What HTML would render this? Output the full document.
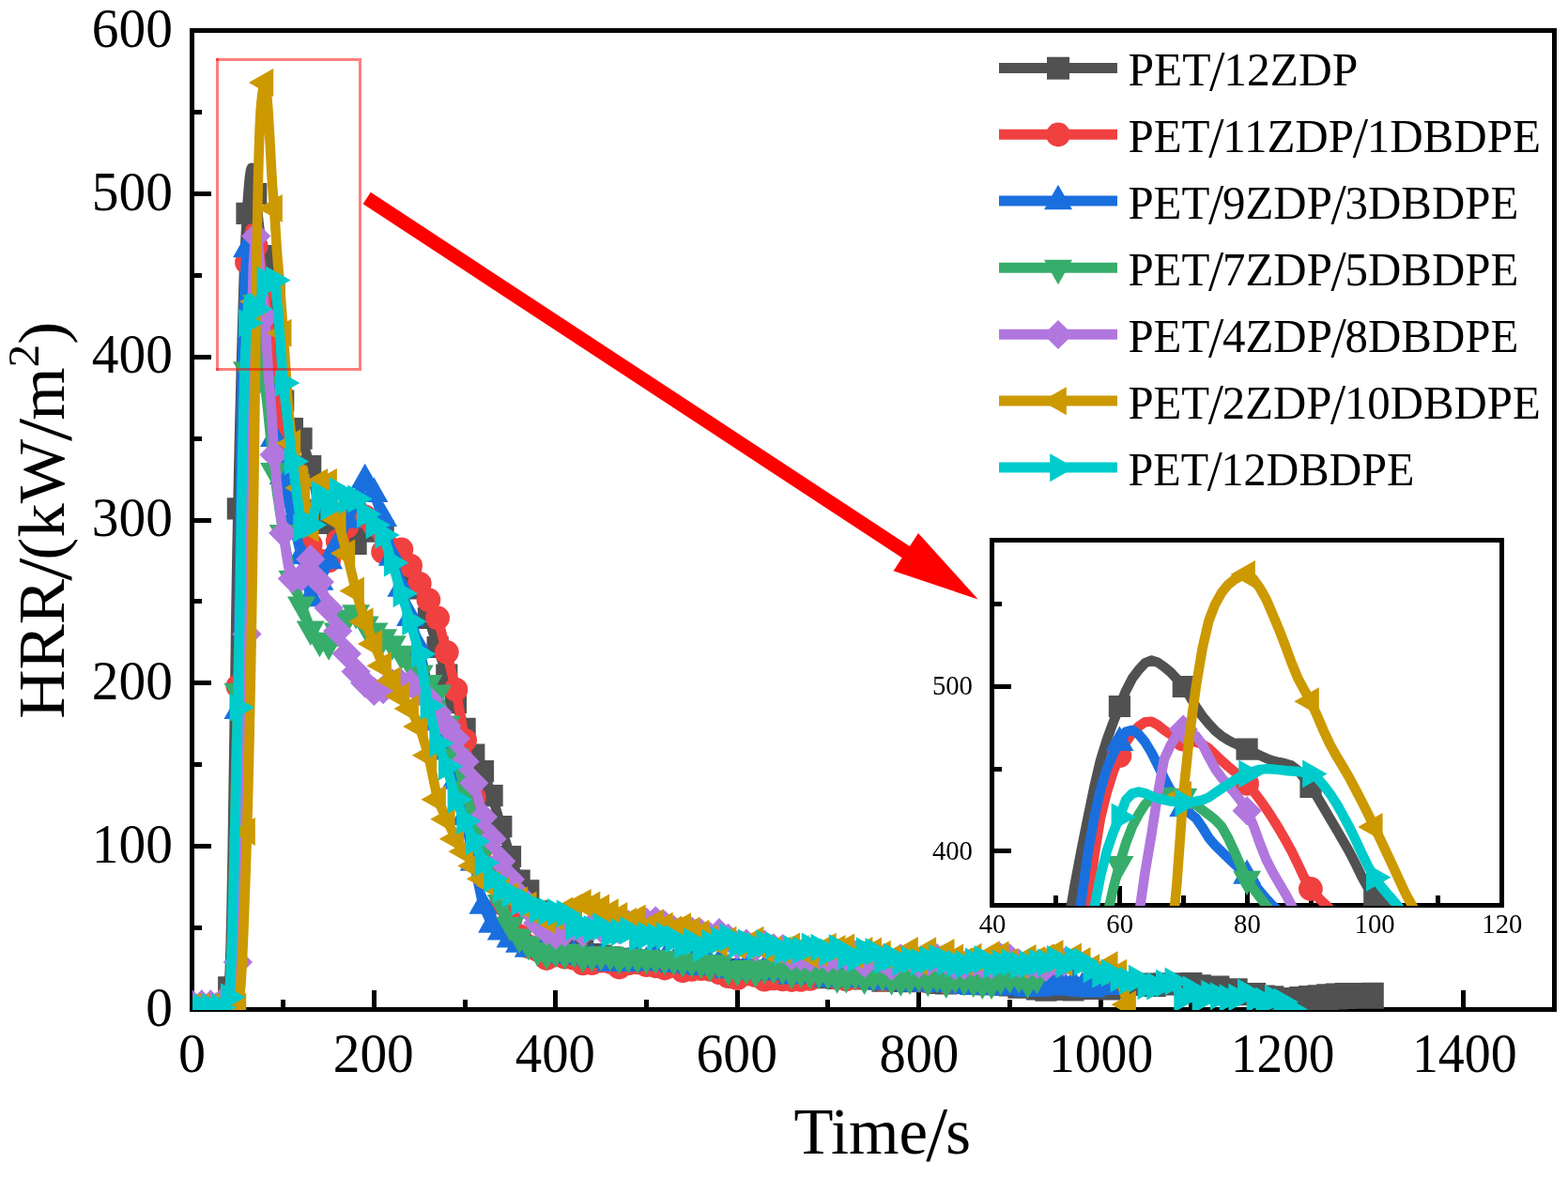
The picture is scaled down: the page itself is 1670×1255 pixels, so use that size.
<!DOCTYPE html>
<html lang="en"><head><meta charset="utf-8"><title>HRR curves</title>
<style>html,body{margin:0;padding:0;background:#fff}svg{display:block}</style>
</head><body>
<svg width="1670" height="1255" viewBox="0 0 1670 1255" font-family="'Liberation Serif','DejaVu Serif',serif" fill="#000">
<defs>
<clipPath id="cm"><rect x="205" y="32.7" width="1450.6" height="1043.2"/></clipPath>
<clipPath id="ci"><rect x="1056.7" y="575.6" width="542.8" height="389.3"/></clipPath>
</defs>
<rect width="1670" height="1255" fill="#fff"/>
<g id="main-axes" stroke="#000" stroke-width="5" fill="none" shape-rendering="crispEdges">
<rect x="204.5" y="32.5" width="1451" height="1043"/>
<path d="M301.7 1075.3v-10.8M398.4 1075.3v-20.3M495.1 1075.3v-10.8M591.8 1075.3v-20.3M688.5 1075.3v-10.8M785.2 1075.3v-20.3M881.9 1075.3v-10.8M978.7 1075.3v-20.3M1075.4 1075.3v-10.8M1172.1 1075.3v-20.3M1268.8 1075.3v-10.8M1365.5 1075.3v-20.3M1462.2 1075.3v-10.8M1558.9 1075.3v-20.3M205 988.4h10M205 901.5h19.5M205 814.6h10M205 727.8h19.5M205 640.9h10M205 554h19.5M205 467.1h10M205 380.2h19.5M205 293.4h10M205 206.5h19.5M205 119.6h10"/>
</g>
<g id="main-data" clip-path="url(#cm)">
<polyline points="205,1073.6 206,1073.6 206.9,1073.6 207.9,1073.6 208.9,1073.6 209.8,1073.6 210.8,1073.6 211.8,1073.6 212.7,1073.6 213.7,1073.6 214.7,1073.6 215.6,1073.6 216.6,1073.6 217.6,1073.6 218.5,1073.6 219.5,1073.6 220.5,1073.6 221.4,1073.6 222.4,1073.6 223.4,1073.6 224.3,1073.6 225.3,1073.6 226.3,1073.6 227.2,1073.6 228.2,1073.6 229.2,1073.6 230.1,1073.6 231.1,1073.6 232.1,1073.6 233,1073.6 234,1073.6 235,1073.3 235.9,1072.6 236.9,1071.5 237.9,1069.9 238.8,1067.9 239.8,1065.5 240.8,1062.7 241.7,1059.4 242.7,1055.8 243.7,1051.8 244.6,1038.3 245.6,1008.2 246.6,964.6 247.6,910.6 248.5,849.3 249.5,783.8 250.5,717.2 251.4,652.6 252.4,593.1 253.4,541.8 254.3,496.4 255.3,453.6 256.3,414.7 257.2,379 258.2,345.5 259.2,312.9 260.1,284.7 261.1,262.9 262.1,244.2 263,227.3 264,210.7 265,197.8 265.9,188.8 266.9,181.6 267.9,178.7 268.8,181 269.8,185.6 270.8,191.2 271.7,198.4 272.7,206.5 273.7,216.4 274.6,227.8 275.6,237.7 276.6,245.8 277.5,253 278.5,258.6 279.5,262.8 280.4,266.3 281.4,269.4 282.4,272.5 283.3,275.8 284.3,279.1 285.3,282.1 286.2,284.7 287.2,286.4 288.2,287.8 289.1,289.9 290.1,295 291.1,303.3 292,312.5 293,322.5 294,333.9 294.9,345.5 295.9,356.9 296.9,368.6 297.8,380.2 298.8,393.2 299.8,406.9 300.7,419.1 301.7,427.2 302.7,432 303.6,436.3 304.6,440.1 305.6,443.5 306.5,446.4 307.5,449 308.5,451.3 309.4,453.3 310.4,455.1 311.4,456.7 321,467.1 330.7,496.7 340.4,543.6 350.1,557.5 359.7,566.2 369.4,574.9 379.1,579.4 388.7,559.2 398.4,566.2 408.1,566.2 417.8,587 427.4,597.4 437.1,609.6 446.8,627 456.4,658.3 466.1,689.5 475.8,719.1 485.4,748.6 495.1,776.4 504.8,804.2 514.5,821.6 524.1,847.7 533.8,880.7 543.5,912.5 553.1,938.1 562.8,948.9 572.5,970.5 582.2,988.1 591.8,998.4 601.5,1003.9 611.2,1010.3 620.8,1011.7 630.5,1016.5 640.2,1018.2 649.9,1019.8 659.5,1021.4 669.2,1021.7 678.9,1023.1 688.5,1024.5 698.2,1026.6 707.9,1027.7 717.5,1027.5 727.2,1029 736.9,1030.8 746.6,1029.6 756.2,1031.7 765.9,1033.1 775.6,1032.5 785.2,1035.1 794.9,1033.2 804.6,1034.2 814.3,1035.4 823.9,1037.6 833.6,1037.2 843.3,1037.9 852.9,1040.2 862.6,1038.1 872.3,1039 881.9,1041.6 891.6,1042.4 901.3,1040.3 911,1041.6 920.6,1042.8 930.3,1042.8 940,1045.2 949.6,1043.5 959.3,1045.3 969,1045.6 978.7,1045 988.3,1045.6 998,1047.5 1007.7,1047.9 1017.3,1047.5 1027,1046.5 1036.7,1047.5 1046.3,1048.7 1056,1048.3 1065.7,1049.1 1075.4,1050 1085,1052.1 1094.7,1052 1104.4,1053.9 1114,1055.1 1123.7,1053 1133.4,1054.3 1143.1,1054.9 1152.7,1052.4 1162.4,1053.4 1172.1,1051 1181.7,1053.9 1191.4,1052.3 1201.1,1048.9 1210.7,1049.5 1220.4,1048 1230.1,1050.5 1239.8,1047.9 1249.4,1049 1259.1,1047.9 1268.8,1047.5 1278.4,1049.8 1288.1,1053.3 1297.8,1051.1 1307.5,1054 1312.3,1054 1317.1,1053.9 1326.8,1059.6 1336.5,1058.7 1346.1,1061.1 1355.8,1061.9 1365.5,1063.7 1370.3,1063.8 1375.2,1063.6 1384.8,1062.6 1389.7,1062.1 1394.5,1061.7 1404.2,1060.8 1409,1060.4 1413.8,1059.9 1423.5,1059.1 1433.2,1058.6 1442.8,1058.5 1452.5,1058.5 1462.2,1058.4" fill="none" stroke="#515151" stroke-width="10.5" stroke-linejoin="round"/>
<path d="M193.4 1062h23.2v23.2h-23.2zM203.1 1062h23.2v23.2h-23.2zM212.7 1062h23.2v23.2h-23.2zM222.4 1062h23.2v23.2h-23.2zM232.1 1040.2h23.2v23.2h-23.2zM241.8 530.2h23.2v23.2h-23.2zM251.4 215.7h23.2v23.2h-23.2zM261.1 194.9h23.2v23.2h-23.2zM270.8 260.9h23.2v23.2h-23.2zM280.4 300.9h23.2v23.2h-23.2zM290.1 415.6h23.2v23.2h-23.2zM299.8 445.1h23.2v23.2h-23.2zM309.4 455.5h23.2v23.2h-23.2zM319.1 485.1h23.2v23.2h-23.2zM328.8 532h23.2v23.2h-23.2zM338.5 545.9h23.2v23.2h-23.2zM348.1 554.6h23.2v23.2h-23.2zM357.8 563.3h23.2v23.2h-23.2zM367.5 567.8h23.2v23.2h-23.2zM377.1 547.6h23.2v23.2h-23.2zM386.8 554.6h23.2v23.2h-23.2zM396.5 554.6h23.2v23.2h-23.2zM406.2 575.4h23.2v23.2h-23.2zM415.8 585.8h23.2v23.2h-23.2zM425.5 598h23.2v23.2h-23.2zM435.2 615.4h23.2v23.2h-23.2zM444.8 646.7h23.2v23.2h-23.2zM454.5 677.9h23.2v23.2h-23.2zM464.2 707.5h23.2v23.2h-23.2zM473.8 737h23.2v23.2h-23.2zM483.5 764.8h23.2v23.2h-23.2zM493.2 792.6h23.2v23.2h-23.2zM502.9 810h23.2v23.2h-23.2zM512.5 836.1h23.2v23.2h-23.2zM522.2 869.1h23.2v23.2h-23.2zM531.9 900.9h23.2v23.2h-23.2zM541.5 926.5h23.2v23.2h-23.2zM551.2 937.3h23.2v23.2h-23.2zM560.9 958.9h23.2v23.2h-23.2zM570.6 976.5h23.2v23.2h-23.2zM580.2 986.8h23.2v23.2h-23.2zM589.9 992.3h23.2v23.2h-23.2zM599.6 998.7h23.2v23.2h-23.2zM609.2 1000.1h23.2v23.2h-23.2zM618.9 1004.9h23.2v23.2h-23.2zM628.6 1006.6h23.2v23.2h-23.2zM638.3 1008.2h23.2v23.2h-23.2zM647.9 1009.8h23.2v23.2h-23.2zM657.6 1010.1h23.2v23.2h-23.2zM667.3 1011.5h23.2v23.2h-23.2zM676.9 1012.9h23.2v23.2h-23.2zM686.6 1015h23.2v23.2h-23.2zM696.3 1016.1h23.2v23.2h-23.2zM705.9 1015.9h23.2v23.2h-23.2zM715.6 1017.4h23.2v23.2h-23.2zM725.3 1019.2h23.2v23.2h-23.2zM735 1018h23.2v23.2h-23.2zM744.6 1020.1h23.2v23.2h-23.2zM754.3 1021.5h23.2v23.2h-23.2zM764 1020.9h23.2v23.2h-23.2zM773.6 1023.5h23.2v23.2h-23.2zM783.3 1021.6h23.2v23.2h-23.2zM793 1022.6h23.2v23.2h-23.2zM802.7 1023.8h23.2v23.2h-23.2zM812.3 1026h23.2v23.2h-23.2zM822 1025.6h23.2v23.2h-23.2zM831.7 1026.3h23.2v23.2h-23.2zM841.3 1028.6h23.2v23.2h-23.2zM851 1026.5h23.2v23.2h-23.2zM860.7 1027.4h23.2v23.2h-23.2zM870.3 1030h23.2v23.2h-23.2zM880 1030.8h23.2v23.2h-23.2zM889.7 1028.7h23.2v23.2h-23.2zM899.4 1030h23.2v23.2h-23.2zM909 1031.2h23.2v23.2h-23.2zM918.7 1031.2h23.2v23.2h-23.2zM928.4 1033.6h23.2v23.2h-23.2zM938 1031.9h23.2v23.2h-23.2zM947.7 1033.7h23.2v23.2h-23.2zM957.4 1034h23.2v23.2h-23.2zM967.1 1033.4h23.2v23.2h-23.2zM976.7 1034h23.2v23.2h-23.2zM986.4 1035.9h23.2v23.2h-23.2zM996.1 1036.3h23.2v23.2h-23.2zM1005.7 1035.9h23.2v23.2h-23.2zM1015.4 1034.9h23.2v23.2h-23.2zM1025.1 1035.9h23.2v23.2h-23.2zM1034.7 1037.1h23.2v23.2h-23.2zM1044.4 1036.7h23.2v23.2h-23.2zM1054.1 1037.5h23.2v23.2h-23.2zM1063.8 1038.4h23.2v23.2h-23.2zM1073.4 1040.5h23.2v23.2h-23.2zM1083.1 1040.4h23.2v23.2h-23.2zM1092.8 1042.3h23.2v23.2h-23.2zM1102.4 1043.5h23.2v23.2h-23.2zM1112.1 1041.4h23.2v23.2h-23.2zM1121.8 1042.7h23.2v23.2h-23.2zM1131.5 1043.3h23.2v23.2h-23.2zM1141.1 1040.8h23.2v23.2h-23.2zM1150.8 1041.8h23.2v23.2h-23.2zM1160.5 1039.4h23.2v23.2h-23.2zM1170.1 1042.3h23.2v23.2h-23.2zM1179.8 1040.7h23.2v23.2h-23.2zM1189.5 1037.3h23.2v23.2h-23.2zM1199.1 1037.9h23.2v23.2h-23.2zM1208.8 1036.4h23.2v23.2h-23.2zM1218.5 1038.9h23.2v23.2h-23.2zM1228.2 1036.3h23.2v23.2h-23.2zM1237.8 1037.4h23.2v23.2h-23.2zM1247.5 1036.3h23.2v23.2h-23.2zM1257.2 1035.9h23.2v23.2h-23.2zM1266.8 1038.2h23.2v23.2h-23.2zM1276.5 1041.7h23.2v23.2h-23.2zM1286.2 1039.5h23.2v23.2h-23.2zM1295.9 1042.4h23.2v23.2h-23.2zM1305.5 1042.3h23.2v23.2h-23.2zM1315.2 1048h23.2v23.2h-23.2zM1324.9 1047.1h23.2v23.2h-23.2zM1334.5 1049.5h23.2v23.2h-23.2zM1344.2 1050.3h23.2v23.2h-23.2zM1353.9 1052.1h23.2v23.2h-23.2zM1363.6 1052h23.2v23.2h-23.2zM1373.2 1051h23.2v23.2h-23.2zM1382.9 1050.1h23.2v23.2h-23.2zM1392.6 1049.2h23.2v23.2h-23.2zM1402.2 1048.3h23.2v23.2h-23.2zM1411.9 1047.5h23.2v23.2h-23.2zM1421.6 1047h23.2v23.2h-23.2zM1431.2 1046.9h23.2v23.2h-23.2zM1440.9 1046.9h23.2v23.2h-23.2zM1450.6 1046.8h23.2v23.2h-23.2zM1353.9 1055.7h23.2v23.2h-23.2zM1363.6 1056.1h23.2v23.2h-23.2zM1373.2 1055.4h23.2v23.2h-23.2zM1382.9 1054.3h23.2v23.2h-23.2zM1392.6 1053.6h23.2v23.2h-23.2zM1402.2 1052.9h23.2v23.2h-23.2zM1411.9 1052.2h23.2v23.2h-23.2zM1421.6 1051.7h23.2v23.2h-23.2zM1431.2 1051.5h23.2v23.2h-23.2zM1440.9 1051.5h23.2v23.2h-23.2zM1450.6 1051.5h23.2v23.2h-23.2z" fill="#515151"/>
<polyline points="205,1072.7 206,1072.7 206.9,1072.7 207.9,1072.7 208.9,1072.7 209.8,1072.7 210.8,1072.7 211.8,1072.7 212.7,1072.7 213.7,1072.7 214.7,1072.7 215.6,1072.7 216.6,1072.7 217.6,1072.7 218.5,1072.7 219.5,1072.7 220.5,1072.7 221.4,1072.7 222.4,1072.7 223.4,1072.7 224.3,1072.7 225.3,1072.7 226.3,1072.7 227.2,1072.7 228.2,1072.7 229.2,1072.7 230.1,1072.7 231.1,1072.7 232.1,1072.7 233,1072.7 234,1072.7 235,1072.6 235.9,1072.2 236.9,1071.6 237.9,1070.8 238.8,1069.8 239.8,1068.5 240.8,1067 241.7,1065.4 242.7,1063.5 243.7,1061.4 244.6,1054.3 245.6,1038.2 246.6,1014.4 247.6,983.9 248.5,948.1 249.5,908.2 250.5,865.3 251.4,820.7 252.4,775.6 253.4,731.2 254.3,680.9 255.3,620.8 256.3,556.5 257.2,493.6 258.2,437.6 259.2,386.5 260.1,345.5 261.1,318.2 262.1,296.6 263,279.4 264,265.2 265,255.1 265.9,248.5 266.9,243.9 267.9,243.4 268.8,247 269.8,252.4 270.8,256.9 271.7,259.7 272.7,262.1 273.7,263.8 274.6,265.2 275.6,267.3 276.6,271.7 277.5,278.1 278.5,284.7 279.5,290.4 280.4,296.1 281.4,302.2 282.4,309 283.3,316.9 284.3,325.8 285.3,335.4 286.2,345.5 287.2,356.3 288.2,368 289.1,380.2 290.1,394.1 291.1,408.5 292,420.2 293,428.2 294,434.7 294.9,441.1 295.9,447.8 296.9,454.6 297.8,461.3 298.8,467.8 299.8,474 300.7,479.6 301.7,484.5 302.7,488.8 303.6,492.8 304.6,496.5 305.6,499.9 306.5,503.2 307.5,506.4 308.5,509.5 309.4,512.6 310.4,515.9 311.4,519.2 321,554 330.7,580.1 340.4,597.4 350.1,597.4 359.7,576.6 369.4,561 379.1,543.6 388.7,550.5 398.4,559.2 408.1,587.9 417.8,585.3 427.4,585.3 437.1,602.7 446.8,621.8 456.4,639.1 466.1,658.3 475.8,694.8 485.4,734.7 495.1,788.6 504.8,849.4 514.5,901.5 524.1,936.3 533.8,962.4 543.5,979.6 553.1,997.2 562.8,1008.3 572.5,1011.8 582.2,1021 591.8,1017.1 601.5,1019.5 611.2,1020.8 620.8,1026.3 630.5,1026.1 640.2,1023.7 649.9,1024.8 659.5,1030.5 669.2,1026.4 678.9,1025.4 688.5,1028.1 698.2,1029.2 707.9,1031.5 717.5,1028.8 727.2,1034.2 736.9,1032.9 746.6,1032.2 756.2,1032.8 765.9,1036.1 775.6,1040.2 785.2,1042 794.9,1037.7 804.6,1039.2 814.3,1043.6 823.9,1042.3 833.6,1043.3 843.3,1044 852.9,1043.8 862.6,1042.8 872.3,1039.1 881.9,1039.4 891.6,1041.9 901.3,1043.4 911,1041.3 920.6,1039.1 930.3,1038.4 940,1043.6 949.6,1042.1 959.3,1043.1 969,1039.1 978.7,1044.4 988.3,1045.6 998,1040 1007.7,1046.1 1017.3,1043.2 1027,1040.6 1036.7,1040.9 1046.3,1042.8 1056,1044.8 1065.7,1043.9 1075.4,1041.9 1085,1045.3 1094.7,1046 1104.4,1044 1114,1045.9 1123.7,1046.6" fill="none" stroke="#F14040" stroke-width="10.5" stroke-linejoin="round"/>
<path d="M192.1 1072.7a12.9 12.9 0 1 0 25.8 0a12.9 12.9 0 1 0 -25.8 0zM201.8 1072.7a12.9 12.9 0 1 0 25.8 0a12.9 12.9 0 1 0 -25.8 0zM211.4 1072.7a12.9 12.9 0 1 0 25.8 0a12.9 12.9 0 1 0 -25.8 0zM221.1 1072.7a12.9 12.9 0 1 0 25.8 0a12.9 12.9 0 1 0 -25.8 0zM230.8 1061.4a12.9 12.9 0 1 0 25.8 0a12.9 12.9 0 1 0 -25.8 0zM240.5 731.2a12.9 12.9 0 1 0 25.8 0a12.9 12.9 0 1 0 -25.8 0zM250.1 279.4a12.9 12.9 0 1 0 25.8 0a12.9 12.9 0 1 0 -25.8 0zM259.8 262.1a12.9 12.9 0 1 0 25.8 0a12.9 12.9 0 1 0 -25.8 0zM269.5 309a12.9 12.9 0 1 0 25.8 0a12.9 12.9 0 1 0 -25.8 0zM279.1 420.2a12.9 12.9 0 1 0 25.8 0a12.9 12.9 0 1 0 -25.8 0zM288.8 484.5a12.9 12.9 0 1 0 25.8 0a12.9 12.9 0 1 0 -25.8 0zM298.5 519.2a12.9 12.9 0 1 0 25.8 0a12.9 12.9 0 1 0 -25.8 0zM308.1 554a12.9 12.9 0 1 0 25.8 0a12.9 12.9 0 1 0 -25.8 0zM317.8 580.1a12.9 12.9 0 1 0 25.8 0a12.9 12.9 0 1 0 -25.8 0zM327.5 597.4a12.9 12.9 0 1 0 25.8 0a12.9 12.9 0 1 0 -25.8 0zM337.2 597.4a12.9 12.9 0 1 0 25.8 0a12.9 12.9 0 1 0 -25.8 0zM346.8 576.6a12.9 12.9 0 1 0 25.8 0a12.9 12.9 0 1 0 -25.8 0zM356.5 561a12.9 12.9 0 1 0 25.8 0a12.9 12.9 0 1 0 -25.8 0zM366.2 543.6a12.9 12.9 0 1 0 25.8 0a12.9 12.9 0 1 0 -25.8 0zM375.8 550.5a12.9 12.9 0 1 0 25.8 0a12.9 12.9 0 1 0 -25.8 0zM385.5 559.2a12.9 12.9 0 1 0 25.8 0a12.9 12.9 0 1 0 -25.8 0zM395.2 587.9a12.9 12.9 0 1 0 25.8 0a12.9 12.9 0 1 0 -25.8 0zM404.9 585.3a12.9 12.9 0 1 0 25.8 0a12.9 12.9 0 1 0 -25.8 0zM414.5 585.3a12.9 12.9 0 1 0 25.8 0a12.9 12.9 0 1 0 -25.8 0zM424.2 602.7a12.9 12.9 0 1 0 25.8 0a12.9 12.9 0 1 0 -25.8 0zM433.9 621.8a12.9 12.9 0 1 0 25.8 0a12.9 12.9 0 1 0 -25.8 0zM443.5 639.1a12.9 12.9 0 1 0 25.8 0a12.9 12.9 0 1 0 -25.8 0zM453.2 658.3a12.9 12.9 0 1 0 25.8 0a12.9 12.9 0 1 0 -25.8 0zM462.9 694.8a12.9 12.9 0 1 0 25.8 0a12.9 12.9 0 1 0 -25.8 0zM472.5 734.7a12.9 12.9 0 1 0 25.8 0a12.9 12.9 0 1 0 -25.8 0zM482.2 788.6a12.9 12.9 0 1 0 25.8 0a12.9 12.9 0 1 0 -25.8 0zM491.9 849.4a12.9 12.9 0 1 0 25.8 0a12.9 12.9 0 1 0 -25.8 0zM501.6 901.5a12.9 12.9 0 1 0 25.8 0a12.9 12.9 0 1 0 -25.8 0zM511.2 936.3a12.9 12.9 0 1 0 25.8 0a12.9 12.9 0 1 0 -25.8 0zM520.9 962.4a12.9 12.9 0 1 0 25.8 0a12.9 12.9 0 1 0 -25.8 0zM530.6 979.6a12.9 12.9 0 1 0 25.8 0a12.9 12.9 0 1 0 -25.8 0zM540.2 997.2a12.9 12.9 0 1 0 25.8 0a12.9 12.9 0 1 0 -25.8 0zM549.9 1008.3a12.9 12.9 0 1 0 25.8 0a12.9 12.9 0 1 0 -25.8 0zM559.6 1011.8a12.9 12.9 0 1 0 25.8 0a12.9 12.9 0 1 0 -25.8 0zM569.3 1021a12.9 12.9 0 1 0 25.8 0a12.9 12.9 0 1 0 -25.8 0zM578.9 1017.1a12.9 12.9 0 1 0 25.8 0a12.9 12.9 0 1 0 -25.8 0zM588.6 1019.5a12.9 12.9 0 1 0 25.8 0a12.9 12.9 0 1 0 -25.8 0zM598.3 1020.8a12.9 12.9 0 1 0 25.8 0a12.9 12.9 0 1 0 -25.8 0zM607.9 1026.3a12.9 12.9 0 1 0 25.8 0a12.9 12.9 0 1 0 -25.8 0zM617.6 1026.1a12.9 12.9 0 1 0 25.8 0a12.9 12.9 0 1 0 -25.8 0zM627.3 1023.7a12.9 12.9 0 1 0 25.8 0a12.9 12.9 0 1 0 -25.8 0zM637 1024.8a12.9 12.9 0 1 0 25.8 0a12.9 12.9 0 1 0 -25.8 0zM646.6 1030.5a12.9 12.9 0 1 0 25.8 0a12.9 12.9 0 1 0 -25.8 0zM656.3 1026.4a12.9 12.9 0 1 0 25.8 0a12.9 12.9 0 1 0 -25.8 0zM666 1025.4a12.9 12.9 0 1 0 25.8 0a12.9 12.9 0 1 0 -25.8 0zM675.6 1028.1a12.9 12.9 0 1 0 25.8 0a12.9 12.9 0 1 0 -25.8 0zM685.3 1029.2a12.9 12.9 0 1 0 25.8 0a12.9 12.9 0 1 0 -25.8 0zM695 1031.5a12.9 12.9 0 1 0 25.8 0a12.9 12.9 0 1 0 -25.8 0zM704.6 1028.8a12.9 12.9 0 1 0 25.8 0a12.9 12.9 0 1 0 -25.8 0zM714.3 1034.2a12.9 12.9 0 1 0 25.8 0a12.9 12.9 0 1 0 -25.8 0zM724 1032.9a12.9 12.9 0 1 0 25.8 0a12.9 12.9 0 1 0 -25.8 0zM733.7 1032.2a12.9 12.9 0 1 0 25.8 0a12.9 12.9 0 1 0 -25.8 0zM743.3 1032.8a12.9 12.9 0 1 0 25.8 0a12.9 12.9 0 1 0 -25.8 0zM753 1036.1a12.9 12.9 0 1 0 25.8 0a12.9 12.9 0 1 0 -25.8 0zM762.7 1040.2a12.9 12.9 0 1 0 25.8 0a12.9 12.9 0 1 0 -25.8 0zM772.3 1042a12.9 12.9 0 1 0 25.8 0a12.9 12.9 0 1 0 -25.8 0zM782 1037.7a12.9 12.9 0 1 0 25.8 0a12.9 12.9 0 1 0 -25.8 0zM791.7 1039.2a12.9 12.9 0 1 0 25.8 0a12.9 12.9 0 1 0 -25.8 0zM801.4 1043.6a12.9 12.9 0 1 0 25.8 0a12.9 12.9 0 1 0 -25.8 0zM811 1042.3a12.9 12.9 0 1 0 25.8 0a12.9 12.9 0 1 0 -25.8 0zM820.7 1043.3a12.9 12.9 0 1 0 25.8 0a12.9 12.9 0 1 0 -25.8 0zM830.4 1044a12.9 12.9 0 1 0 25.8 0a12.9 12.9 0 1 0 -25.8 0zM840 1043.8a12.9 12.9 0 1 0 25.8 0a12.9 12.9 0 1 0 -25.8 0zM849.7 1042.8a12.9 12.9 0 1 0 25.8 0a12.9 12.9 0 1 0 -25.8 0zM859.4 1039.1a12.9 12.9 0 1 0 25.8 0a12.9 12.9 0 1 0 -25.8 0zM869 1039.4a12.9 12.9 0 1 0 25.8 0a12.9 12.9 0 1 0 -25.8 0zM878.7 1041.9a12.9 12.9 0 1 0 25.8 0a12.9 12.9 0 1 0 -25.8 0zM888.4 1043.4a12.9 12.9 0 1 0 25.8 0a12.9 12.9 0 1 0 -25.8 0zM898.1 1041.3a12.9 12.9 0 1 0 25.8 0a12.9 12.9 0 1 0 -25.8 0zM907.7 1039.1a12.9 12.9 0 1 0 25.8 0a12.9 12.9 0 1 0 -25.8 0zM917.4 1038.4a12.9 12.9 0 1 0 25.8 0a12.9 12.9 0 1 0 -25.8 0zM927.1 1043.6a12.9 12.9 0 1 0 25.8 0a12.9 12.9 0 1 0 -25.8 0zM936.7 1042.1a12.9 12.9 0 1 0 25.8 0a12.9 12.9 0 1 0 -25.8 0zM946.4 1043.1a12.9 12.9 0 1 0 25.8 0a12.9 12.9 0 1 0 -25.8 0zM956.1 1039.1a12.9 12.9 0 1 0 25.8 0a12.9 12.9 0 1 0 -25.8 0zM965.8 1044.4a12.9 12.9 0 1 0 25.8 0a12.9 12.9 0 1 0 -25.8 0zM975.4 1045.6a12.9 12.9 0 1 0 25.8 0a12.9 12.9 0 1 0 -25.8 0zM985.1 1040a12.9 12.9 0 1 0 25.8 0a12.9 12.9 0 1 0 -25.8 0zM994.8 1046.1a12.9 12.9 0 1 0 25.8 0a12.9 12.9 0 1 0 -25.8 0zM1004.4 1043.2a12.9 12.9 0 1 0 25.8 0a12.9 12.9 0 1 0 -25.8 0zM1014.1 1040.6a12.9 12.9 0 1 0 25.8 0a12.9 12.9 0 1 0 -25.8 0zM1023.8 1040.9a12.9 12.9 0 1 0 25.8 0a12.9 12.9 0 1 0 -25.8 0zM1033.4 1042.8a12.9 12.9 0 1 0 25.8 0a12.9 12.9 0 1 0 -25.8 0zM1043.1 1044.8a12.9 12.9 0 1 0 25.8 0a12.9 12.9 0 1 0 -25.8 0zM1052.8 1043.9a12.9 12.9 0 1 0 25.8 0a12.9 12.9 0 1 0 -25.8 0zM1062.5 1041.9a12.9 12.9 0 1 0 25.8 0a12.9 12.9 0 1 0 -25.8 0zM1072.1 1045.3a12.9 12.9 0 1 0 25.8 0a12.9 12.9 0 1 0 -25.8 0zM1081.8 1046a12.9 12.9 0 1 0 25.8 0a12.9 12.9 0 1 0 -25.8 0zM1091.5 1044a12.9 12.9 0 1 0 25.8 0a12.9 12.9 0 1 0 -25.8 0zM1101.1 1045.9a12.9 12.9 0 1 0 25.8 0a12.9 12.9 0 1 0 -25.8 0zM1110.8 1046.6a12.9 12.9 0 1 0 25.8 0a12.9 12.9 0 1 0 -25.8 0z" fill="#F14040"/>
<polyline points="205,1071.8 206,1071.8 206.9,1071.8 207.9,1071.8 208.9,1071.8 209.8,1071.8 210.8,1071.8 211.8,1071.8 212.7,1071.8 213.7,1071.8 214.7,1071.8 215.6,1071.8 216.6,1071.8 217.6,1071.8 218.5,1071.8 219.5,1071.8 220.5,1071.8 221.4,1071.8 222.4,1071.8 223.4,1071.8 224.3,1071.8 225.3,1071.8 226.3,1071.8 227.2,1071.8 228.2,1071.8 229.2,1071.8 230.1,1071.8 231.1,1071.8 232.1,1071.8 233,1071.8 234,1071.8 235,1071.7 235.9,1071.4 236.9,1070.8 237.9,1070.1 238.8,1069.1 239.8,1068 240.8,1066.6 241.7,1065.1 242.7,1063.3 243.7,1061.4 244.6,1055.5 245.6,1042.4 246.6,1022.7 247.6,997.1 248.5,966.3 249.5,930.9 250.5,891.6 251.4,849.2 252.4,804.2 253.4,757.3 254.3,689.3 255.3,596.4 256.3,502.7 257.2,432.1 258.2,383.4 259.2,345.5 260.1,315.8 261.1,293.4 262.1,277.7 263,265.5 264,254 265,252.4 265.9,256.9 266.9,264.8 267.9,276 268.8,289.2 269.8,303 270.8,315.9 271.7,326.6 272.7,335.1 273.7,340.2 274.6,345.5 275.6,355.2 276.6,366.3 277.5,374.2 278.5,380.8 279.5,387.2 280.4,393.5 281.4,399.7 282.4,406.3 283.3,414 284.3,422.4 285.3,430.5 286.2,437.6 287.2,443.4 288.2,448.7 289.1,453.6 290.1,458.2 291.1,462.7 292,467.1 293,471.5 294,475.6 294.9,479.6 295.9,483.4 296.9,487.3 297.8,491.1 298.8,494.9 299.8,498.8 300.7,502.9 301.7,507.1 302.7,511.5 303.6,516.1 304.6,520.9 305.6,525.8 306.5,530.7 307.5,535.6 308.5,540.4 309.4,545.1 310.4,549.7 311.4,554 321,592.2 330.7,637.4 340.4,620 350.1,597.4 359.7,580.1 369.4,554 379.1,536.6 388.7,511.4 398.4,526.2 408.1,552.3 417.8,594 427.4,627 437.1,658.3 446.8,691.3 456.4,734.7 466.1,769.5 475.8,800.7 485.4,832 495.1,870.3 504.8,918.9 514.5,965 524.1,984.9 533.8,992.6 543.5,1000.8 553.1,1006 562.8,1011 572.5,1009.3 582.2,1010.1 591.8,1015 601.5,1017.8 611.2,1018.2 620.8,1019.1 630.5,1021.6 640.2,1022.1 649.9,1025.9 659.5,1026.3 669.2,1026.3 678.9,1020.3 688.5,1025.5 698.2,1020.3 707.9,1023.7 717.5,1027.3 727.2,1025.1 736.9,1028.6 746.6,1030.3 756.2,1029 765.9,1027.3 775.6,1033.5 785.2,1034 794.9,1030.5 804.6,1035.1 814.3,1033.5 823.9,1035.6 833.6,1035.4 843.3,1039.8 852.9,1035.2 862.6,1037.4 872.3,1038.1 881.9,1043 891.6,1040.9 901.3,1038.3 911,1043.1 920.6,1042.2 930.3,1044.2 940,1045.9 949.6,1043.7 959.3,1044.9 969,1047.8 978.7,1044.1 988.3,1044.5 998,1048.5 1007.7,1046.1 1017.3,1044.3 1027,1050 1036.7,1051.1 1046.3,1047.1 1056,1051.5 1065.7,1046.5 1075.4,1051.8 1085,1048.7 1094.7,1053.1 1104.4,1052.9 1114,1048 1123.7,1052 1133.4,1050.7 1143.1,1048.8 1152.7,1052.9 1162.4,1053.8 1172.1,1049.6 1181.7,1051.1" fill="none" stroke="#1A6FDF" stroke-width="10.5" stroke-linejoin="round"/>
<path d="M205 1054.2L220 1080.6L190 1080.6zM214.7 1054.2L229.7 1080.6L199.7 1080.6zM224.3 1054.2L239.3 1080.6L209.3 1080.6zM234 1054.2L249 1080.6L219 1080.6zM243.7 1043.8L258.7 1070.2L228.7 1070.2zM253.4 739.7L268.4 766.1L238.4 766.1zM263 247.9L278 274.3L248 274.3zM272.7 317.5L287.7 343.9L257.7 343.9zM282.4 388.7L297.4 415.1L267.4 415.1zM292 449.5L307 475.9L277 475.9zM301.7 489.5L316.7 515.9L286.7 515.9zM311.4 536.4L326.4 562.8L296.4 562.8zM321 574.6L336 601L306 601zM330.7 619.8L345.7 646.2L315.7 646.2zM340.4 602.4L355.4 628.8L325.4 628.8zM350.1 579.8L365.1 606.2L335.1 606.2zM359.7 562.5L374.7 588.9L344.7 588.9zM369.4 536.4L384.4 562.8L354.4 562.8zM379.1 519L394.1 545.4L364.1 545.4zM388.7 493.8L403.7 520.2L373.7 520.2zM398.4 508.6L413.4 535L383.4 535zM408.1 534.7L423.1 561.1L393.1 561.1zM417.8 576.4L432.8 602.8L402.8 602.8zM427.4 609.4L442.4 635.8L412.4 635.8zM437.1 640.7L452.1 667.1L422.1 667.1zM446.8 673.7L461.8 700.1L431.8 700.1zM456.4 717.1L471.4 743.5L441.4 743.5zM466.1 751.9L481.1 778.3L451.1 778.3zM475.8 783.1L490.8 809.5L460.8 809.5zM485.4 814.4L500.4 840.8L470.4 840.8zM495.1 852.7L510.1 879.1L480.1 879.1zM504.8 901.3L519.8 927.7L489.8 927.7zM514.5 947.4L529.5 973.8L499.5 973.8zM524.1 967.3L539.1 993.7L509.1 993.7zM533.8 975L548.8 1001.4L518.8 1001.4zM543.5 983.2L558.5 1009.6L528.5 1009.6zM553.1 988.4L568.1 1014.8L538.1 1014.8zM562.8 993.4L577.8 1019.8L547.8 1019.8zM572.5 991.7L587.5 1018.1L557.5 1018.1zM582.2 992.5L597.2 1018.9L567.2 1018.9zM591.8 997.4L606.8 1023.8L576.8 1023.8zM601.5 1000.2L616.5 1026.6L586.5 1026.6zM611.2 1000.6L626.2 1027L596.2 1027zM620.8 1001.5L635.8 1027.9L605.8 1027.9zM630.5 1004L645.5 1030.4L615.5 1030.4zM640.2 1004.5L655.2 1030.9L625.2 1030.9zM649.9 1008.3L664.9 1034.7L634.9 1034.7zM659.5 1008.7L674.5 1035.1L644.5 1035.1zM669.2 1008.7L684.2 1035.1L654.2 1035.1zM678.9 1002.7L693.9 1029.1L663.9 1029.1zM688.5 1007.9L703.5 1034.3L673.5 1034.3zM698.2 1002.7L713.2 1029.1L683.2 1029.1zM707.9 1006.1L722.9 1032.5L692.9 1032.5zM717.5 1009.7L732.5 1036.1L702.5 1036.1zM727.2 1007.5L742.2 1033.9L712.2 1033.9zM736.9 1011L751.9 1037.4L721.9 1037.4zM746.6 1012.7L761.6 1039.1L731.6 1039.1zM756.2 1011.4L771.2 1037.8L741.2 1037.8zM765.9 1009.7L780.9 1036.1L750.9 1036.1zM775.6 1015.9L790.6 1042.3L760.6 1042.3zM785.2 1016.4L800.2 1042.8L770.2 1042.8zM794.9 1012.9L809.9 1039.3L779.9 1039.3zM804.6 1017.5L819.6 1043.9L789.6 1043.9zM814.3 1015.9L829.3 1042.3L799.3 1042.3zM823.9 1018L838.9 1044.4L808.9 1044.4zM833.6 1017.8L848.6 1044.2L818.6 1044.2zM843.3 1022.2L858.3 1048.6L828.3 1048.6zM852.9 1017.6L867.9 1044L837.9 1044zM862.6 1019.8L877.6 1046.2L847.6 1046.2zM872.3 1020.5L887.3 1046.9L857.3 1046.9zM881.9 1025.4L896.9 1051.8L866.9 1051.8zM891.6 1023.3L906.6 1049.7L876.6 1049.7zM901.3 1020.7L916.3 1047.1L886.3 1047.1zM911 1025.5L926 1051.9L896 1051.9zM920.6 1024.6L935.6 1051L905.6 1051zM930.3 1026.6L945.3 1053L915.3 1053zM940 1028.3L955 1054.7L925 1054.7zM949.6 1026.1L964.6 1052.5L934.6 1052.5zM959.3 1027.3L974.3 1053.7L944.3 1053.7zM969 1030.2L984 1056.6L954 1056.6zM978.7 1026.5L993.7 1052.9L963.7 1052.9zM988.3 1026.9L1003.3 1053.3L973.3 1053.3zM998 1030.9L1013 1057.3L983 1057.3zM1007.7 1028.5L1022.7 1054.9L992.7 1054.9zM1017.3 1026.7L1032.3 1053.1L1002.3 1053.1zM1027 1032.4L1042 1058.8L1012 1058.8zM1036.7 1033.5L1051.7 1059.9L1021.7 1059.9zM1046.3 1029.5L1061.3 1055.9L1031.3 1055.9zM1056 1033.9L1071 1060.3L1041 1060.3zM1065.7 1028.9L1080.7 1055.3L1050.7 1055.3zM1075.4 1034.2L1090.4 1060.6L1060.4 1060.6zM1085 1031.1L1100 1057.5L1070 1057.5zM1094.7 1035.5L1109.7 1061.9L1079.7 1061.9zM1104.4 1035.3L1119.4 1061.7L1089.4 1061.7zM1114 1030.4L1129 1056.8L1099 1056.8zM1123.7 1034.4L1138.7 1060.8L1108.7 1060.8zM1133.4 1033.1L1148.4 1059.5L1118.4 1059.5zM1143.1 1031.2L1158.1 1057.6L1128.1 1057.6zM1152.7 1035.3L1167.7 1061.7L1137.7 1061.7zM1162.4 1036.2L1177.4 1062.6L1147.4 1062.6zM1172.1 1032L1187.1 1058.4L1157.1 1058.4zM1181.7 1033.5L1196.7 1059.9L1166.7 1059.9z" fill="#1A6FDF"/>
<polyline points="205,1073.6 206,1073.6 206.9,1073.6 207.9,1073.6 208.9,1073.6 209.8,1073.6 210.8,1073.6 211.8,1073.6 212.7,1073.6 213.7,1073.6 214.7,1073.6 215.6,1073.6 216.6,1073.6 217.6,1073.6 218.5,1073.6 219.5,1073.6 220.5,1073.6 221.4,1073.6 222.4,1073.6 223.4,1073.6 224.3,1073.6 225.3,1073.6 226.3,1073.6 227.2,1073.6 228.2,1073.6 229.2,1073.6 230.1,1073.6 231.1,1073.6 232.1,1073.6 233,1073.6 234,1073.6 235,1073.5 235.9,1073.3 236.9,1072.9 237.9,1072.4 238.8,1071.8 239.8,1071 240.8,1070.1 241.7,1069.1 242.7,1067.9 243.7,1066.6 244.6,1059.4 245.6,1041.5 246.6,1014.9 247.6,981.4 248.5,942.7 249.5,900.7 250.5,857.3 251.4,814.2 252.4,773.3 253.4,736.5 254.3,701.3 255.3,664.7 256.3,627.4 257.2,589.9 258.2,552.8 259.2,516.6 260.1,482.1 261.1,449.8 262.1,420.1 263,394.1 264,371.7 265,354.2 265.9,341.3 266.9,331 267.9,324.6 268.8,321.2 269.8,318.6 270.8,317.7 271.7,319.5 272.7,322.9 273.7,326.8 274.6,331.6 275.6,336.8 276.6,341.8 277.5,347.1 278.5,354.2 279.5,365.8 280.4,380.2 281.4,395.6 282.4,409.8 283.3,420.1 284.3,428.8 285.3,437.6 286.2,447 287.2,456.6 288.2,466.2 289.1,475.7 290.1,485 291.1,493.7 292,501.9 293,509.5 294,516.9 294.9,524 295.9,530.9 296.9,537.6 297.8,544 298.8,550.3 299.8,556.3 300.7,562.2 301.7,567.9 302.7,573.5 303.6,579 304.6,584.4 305.6,589.7 306.5,594.8 307.5,599.7 308.5,604.4 309.4,608.8 310.4,612.8 311.4,616.6 321,644.4 330.7,670.4 340.4,682.6 350.1,686.1 359.7,672.2 369.4,658.3 379.1,653 388.7,665.2 398.4,672.2 408.1,679.1 417.8,686.1 427.4,696.5 437.1,706.9 446.8,717.3 456.4,727.8 466.1,738.2 475.8,771.2 485.4,806 495.1,840.7 504.8,875.5 514.5,906.7 524.1,936.3 533.8,961.9 543.5,985.8 553.1,998.4 562.8,1006 572.5,1012.6 582.2,1016 591.8,1013.7 601.5,1015.6 611.2,1014.5 620.8,1019.1 630.5,1018.2 640.2,1017.1 649.9,1017.3 659.5,1021 669.2,1019.4 678.9,1020.1 688.5,1020.8 698.2,1020.7 707.9,1021.6 717.5,1022.1 727.2,1024.2 736.9,1024.1 746.6,1025.5 756.2,1028.7 765.9,1026 775.6,1032.8 785.2,1033.6 794.9,1031.8 804.6,1035.1 814.3,1031.4 823.9,1031.3 833.6,1032.1 843.3,1036.7 852.9,1035.4 862.6,1036.7 872.3,1036.4 881.9,1037.6 891.6,1041.2 901.3,1040.9 911,1037.3 920.6,1042.3 930.3,1039.2 940,1039.4 949.6,1043.1 959.3,1044.1 969,1042.5 978.7,1039.8 988.3,1044.6 998,1040.6 1007.7,1046.4 1017.3,1041.7 1027,1043.8 1036.7,1045.3 1046.3,1047.3 1056,1047.3 1065.7,1043.1 1075.4,1041.3 1085,1041.2 1094.7,1046.6 1104.4,1041.9" fill="none" stroke="#37AD6B" stroke-width="10.5" stroke-linejoin="round"/>
<path d="M205 1091.2L220 1064.8L190 1064.8zM214.7 1091.2L229.7 1064.8L199.7 1064.8zM224.3 1091.2L239.3 1064.8L209.3 1064.8zM234 1091.2L249 1064.8L219 1064.8zM243.7 1084.2L258.7 1057.8L228.7 1057.8zM253.4 754.1L268.4 727.7L238.4 727.7zM263 411.7L278 385.3L248 385.3zM272.7 340.5L287.7 314.1L257.7 314.1zM282.4 427.4L297.4 401L267.4 401zM292 519.5L307 493.1L277 493.1zM301.7 585.5L316.7 559.1L286.7 559.1zM311.4 634.2L326.4 607.8L296.4 607.8zM321 662L336 635.6L306 635.6zM330.7 688L345.7 661.6L315.7 661.6zM340.4 700.2L355.4 673.8L325.4 673.8zM350.1 703.7L365.1 677.3L335.1 677.3zM359.7 689.8L374.7 663.4L344.7 663.4zM369.4 675.9L384.4 649.5L354.4 649.5zM379.1 670.6L394.1 644.2L364.1 644.2zM388.7 682.8L403.7 656.4L373.7 656.4zM398.4 689.8L413.4 663.4L383.4 663.4zM408.1 696.7L423.1 670.3L393.1 670.3zM417.8 703.7L432.8 677.3L402.8 677.3zM427.4 714.1L442.4 687.7L412.4 687.7zM437.1 724.5L452.1 698.1L422.1 698.1zM446.8 734.9L461.8 708.5L431.8 708.5zM456.4 745.4L471.4 719L441.4 719zM466.1 755.8L481.1 729.4L451.1 729.4zM475.8 788.8L490.8 762.4L460.8 762.4zM485.4 823.6L500.4 797.2L470.4 797.2zM495.1 858.3L510.1 831.9L480.1 831.9zM504.8 893.1L519.8 866.7L489.8 866.7zM514.5 924.3L529.5 897.9L499.5 897.9zM524.1 953.9L539.1 927.5L509.1 927.5zM533.8 979.5L548.8 953.1L518.8 953.1zM543.5 1003.4L558.5 977L528.5 977zM553.1 1016L568.1 989.6L538.1 989.6zM562.8 1023.6L577.8 997.2L547.8 997.2zM572.5 1030.2L587.5 1003.8L557.5 1003.8zM582.2 1033.6L597.2 1007.2L567.2 1007.2zM591.8 1031.3L606.8 1004.9L576.8 1004.9zM601.5 1033.2L616.5 1006.8L586.5 1006.8zM611.2 1032.1L626.2 1005.7L596.2 1005.7zM620.8 1036.7L635.8 1010.3L605.8 1010.3zM630.5 1035.8L645.5 1009.4L615.5 1009.4zM640.2 1034.7L655.2 1008.3L625.2 1008.3zM649.9 1034.9L664.9 1008.5L634.9 1008.5zM659.5 1038.6L674.5 1012.2L644.5 1012.2zM669.2 1037L684.2 1010.6L654.2 1010.6zM678.9 1037.7L693.9 1011.3L663.9 1011.3zM688.5 1038.4L703.5 1012L673.5 1012zM698.2 1038.3L713.2 1011.9L683.2 1011.9zM707.9 1039.2L722.9 1012.8L692.9 1012.8zM717.5 1039.7L732.5 1013.3L702.5 1013.3zM727.2 1041.8L742.2 1015.4L712.2 1015.4zM736.9 1041.7L751.9 1015.3L721.9 1015.3zM746.6 1043.1L761.6 1016.7L731.6 1016.7zM756.2 1046.3L771.2 1019.9L741.2 1019.9zM765.9 1043.6L780.9 1017.2L750.9 1017.2zM775.6 1050.4L790.6 1024L760.6 1024zM785.2 1051.2L800.2 1024.8L770.2 1024.8zM794.9 1049.4L809.9 1023L779.9 1023zM804.6 1052.7L819.6 1026.3L789.6 1026.3zM814.3 1049L829.3 1022.6L799.3 1022.6zM823.9 1048.9L838.9 1022.5L808.9 1022.5zM833.6 1049.7L848.6 1023.3L818.6 1023.3zM843.3 1054.3L858.3 1027.9L828.3 1027.9zM852.9 1053L867.9 1026.6L837.9 1026.6zM862.6 1054.3L877.6 1027.9L847.6 1027.9zM872.3 1054L887.3 1027.6L857.3 1027.6zM881.9 1055.2L896.9 1028.8L866.9 1028.8zM891.6 1058.8L906.6 1032.4L876.6 1032.4zM901.3 1058.5L916.3 1032.1L886.3 1032.1zM911 1054.9L926 1028.5L896 1028.5zM920.6 1059.9L935.6 1033.5L905.6 1033.5zM930.3 1056.8L945.3 1030.4L915.3 1030.4zM940 1057L955 1030.6L925 1030.6zM949.6 1060.7L964.6 1034.3L934.6 1034.3zM959.3 1061.7L974.3 1035.3L944.3 1035.3zM969 1060.1L984 1033.7L954 1033.7zM978.7 1057.4L993.7 1031L963.7 1031zM988.3 1062.2L1003.3 1035.8L973.3 1035.8zM998 1058.2L1013 1031.8L983 1031.8zM1007.7 1064L1022.7 1037.6L992.7 1037.6zM1017.3 1059.3L1032.3 1032.9L1002.3 1032.9zM1027 1061.4L1042 1035L1012 1035zM1036.7 1062.9L1051.7 1036.5L1021.7 1036.5zM1046.3 1064.9L1061.3 1038.5L1031.3 1038.5zM1056 1064.9L1071 1038.5L1041 1038.5zM1065.7 1060.7L1080.7 1034.3L1050.7 1034.3zM1075.4 1058.9L1090.4 1032.5L1060.4 1032.5zM1085 1058.8L1100 1032.4L1070 1032.4zM1094.7 1064.2L1109.7 1037.8L1079.7 1037.8zM1104.4 1059.5L1119.4 1033.1L1089.4 1033.1z" fill="#37AD6B"/>
<polyline points="205,1070.1 206,1070.1 206.9,1070.1 207.9,1070.1 208.9,1070.1 209.8,1070.1 210.8,1070.1 211.8,1070.1 212.7,1070.1 213.7,1070.1 214.7,1070.1 215.6,1070.1 216.6,1070.1 217.6,1070.1 218.5,1070.1 219.5,1070.1 220.5,1070.1 221.4,1070.1 222.4,1070.1 223.4,1070.1 224.3,1070.1 225.3,1070.1 226.3,1070.1 227.2,1070.1 228.2,1070.1 229.2,1070.1 230.1,1070.1 231.1,1070.1 232.1,1070.1 233,1070.1 234,1070.1 235,1070 235.9,1069.6 236.9,1069.1 237.9,1068.4 238.8,1067.5 239.8,1066.5 240.8,1065.3 241.7,1064.1 242.7,1062.8 243.7,1061.4 244.6,1059.8 245.6,1057.9 246.6,1055.6 247.6,1052.9 248.5,1049.7 249.5,1045.9 250.5,1041.6 251.4,1036.7 252.4,1031.2 253.4,1024.9 254.3,1014.3 255.3,996.3 256.3,971.7 257.2,941.1 258.2,905.4 259.2,865.2 260.1,821.4 261.1,774.7 262.1,725.9 263,675.6 264,607.5 265,522.7 265.9,448.7 266.9,402.9 267.9,363.3 268.8,319.9 269.8,283.1 270.8,268.4 271.7,257.3 272.7,251.6 273.7,253.8 274.6,258.6 275.6,267.6 276.6,281 277.5,293.4 278.5,302.5 279.5,310.5 280.4,318.3 281.4,327 282.4,337.7 283.3,353.1 284.3,371.9 285.3,388.9 286.2,402 287.2,413.5 288.2,424.9 289.1,437.6 290.1,453.3 291.1,470.3 292,484.5 293,495.6 294,505.9 294.9,515.6 295.9,524.5 296.9,532.9 297.8,540.7 298.8,548.1 299.8,555 300.7,561.6 301.7,567.9 302.7,574.2 303.6,580.8 304.6,587.4 305.6,593.9 306.5,599.9 307.5,605.3 308.5,609.9 309.4,613.5 310.4,615.7 311.4,616.6 321,614.8 330.7,595.7 340.4,620 350.1,647.8 359.7,672.2 369.4,696.5 379.1,715.6 388.7,727.8 398.4,736.5 408.1,734.7 417.8,727.8 427.4,727.8 437.1,727.8 446.8,736.5 456.4,745.1 466.1,759 475.8,772.9 485.4,786.8 495.1,811.2 504.8,834.3 514.5,870.3 524.1,893.7 533.8,917.4 543.5,936.8 553.1,954.3 562.8,967.9 572.5,983.6 582.2,991.6 591.8,996.2 601.5,993.5 611.2,987.1 620.8,993.7 630.5,986.6 640.2,989.5 649.9,986.1 659.5,990.7 669.2,984.8 678.9,986.1 688.5,982.4 698.2,980.9 707.9,985.4 717.5,990.4 727.2,992.9 736.9,992 746.6,993.9 756.2,997.7 765.9,993.7 775.6,999.3 785.2,1006.5 794.9,1005.1 804.6,1009.3 814.3,1006.2 823.9,1009.8 833.6,1010.5 843.3,1018.7 852.9,1019 862.6,1020.1 872.3,1017.8 881.9,1020.9 891.6,1019.3 901.3,1019.3 911,1017.1 920.6,1026.3 930.3,1018.9 940,1022.1 949.6,1029.4 959.3,1020.8 969,1020.5 978.7,1026.8 988.3,1025.2 998,1020.7 1007.7,1023.1 1017.3,1029 1027,1028.4 1036.7,1025.7 1046.3,1027.1 1056,1028 1065.7,1019.8 1075.4,1020.6 1085,1026 1094.7,1027.3 1104.4,1027.6 1114,1030.3 1123.7,1024.1 1133.4,1025.1" fill="none" stroke="#B177DE" stroke-width="10.5" stroke-linejoin="round"/>
<path d="M205 1054.5L220.6 1070.1L205 1085.7L189.4 1070.1zM214.7 1054.5L230.3 1070.1L214.7 1085.7L199.1 1070.1zM224.3 1054.5L239.9 1070.1L224.3 1085.7L208.7 1070.1zM234 1054.5L249.6 1070.1L234 1085.7L218.4 1070.1zM243.7 1045.8L259.3 1061.4L243.7 1077L228.1 1061.4zM253.4 1009.3L269 1024.9L253.4 1040.5L237.8 1024.9zM263 660L278.6 675.6L263 691.2L247.4 675.6zM272.7 236L288.3 251.6L272.7 267.2L257.1 251.6zM282.4 322.1L298 337.7L282.4 353.3L266.8 337.7zM292 468.9L307.6 484.5L292 500.1L276.4 484.5zM301.7 552.3L317.3 567.9L301.7 583.5L286.1 567.9zM311.4 601L327 616.6L311.4 632.2L295.8 616.6zM321 599.2L336.6 614.8L321 630.4L305.4 614.8zM330.7 580.1L346.3 595.7L330.7 611.3L315.1 595.7zM340.4 604.4L356 620L340.4 635.6L324.8 620zM350.1 632.2L365.7 647.8L350.1 663.4L334.5 647.8zM359.7 656.6L375.3 672.2L359.7 687.8L344.1 672.2zM369.4 680.9L385 696.5L369.4 712.1L353.8 696.5zM379.1 700L394.7 715.6L379.1 731.2L363.5 715.6zM388.7 712.2L404.3 727.8L388.7 743.4L373.1 727.8zM398.4 720.9L414 736.5L398.4 752.1L382.8 736.5zM408.1 719.1L423.7 734.7L408.1 750.3L392.5 734.7zM417.8 712.2L433.4 727.8L417.8 743.4L402.2 727.8zM427.4 712.2L443 727.8L427.4 743.4L411.8 727.8zM437.1 712.2L452.7 727.8L437.1 743.4L421.5 727.8zM446.8 720.9L462.4 736.5L446.8 752.1L431.2 736.5zM456.4 729.5L472 745.1L456.4 760.7L440.8 745.1zM466.1 743.4L481.7 759L466.1 774.6L450.5 759zM475.8 757.3L491.4 772.9L475.8 788.5L460.2 772.9zM485.4 771.2L501 786.8L485.4 802.4L469.8 786.8zM495.1 795.6L510.7 811.2L495.1 826.8L479.5 811.2zM504.8 818.7L520.4 834.3L504.8 849.9L489.2 834.3zM514.5 854.7L530.1 870.3L514.5 885.9L498.9 870.3zM524.1 878.1L539.7 893.7L524.1 909.3L508.5 893.7zM533.8 901.8L549.4 917.4L533.8 933L518.2 917.4zM543.5 921.2L559.1 936.8L543.5 952.4L527.9 936.8zM553.1 938.7L568.7 954.3L553.1 969.9L537.5 954.3zM562.8 952.3L578.4 967.9L562.8 983.5L547.2 967.9zM572.5 968L588.1 983.6L572.5 999.2L556.9 983.6zM582.2 976L597.8 991.6L582.2 1007.2L566.6 991.6zM591.8 980.6L607.4 996.2L591.8 1011.8L576.2 996.2zM601.5 977.9L617.1 993.5L601.5 1009.1L585.9 993.5zM611.2 971.5L626.8 987.1L611.2 1002.7L595.6 987.1zM620.8 978.1L636.4 993.7L620.8 1009.3L605.2 993.7zM630.5 971L646.1 986.6L630.5 1002.2L614.9 986.6zM640.2 973.9L655.8 989.5L640.2 1005.1L624.6 989.5zM649.9 970.5L665.5 986.1L649.9 1001.7L634.3 986.1zM659.5 975.1L675.1 990.7L659.5 1006.3L643.9 990.7zM669.2 969.2L684.8 984.8L669.2 1000.4L653.6 984.8zM678.9 970.5L694.5 986.1L678.9 1001.7L663.3 986.1zM688.5 966.8L704.1 982.4L688.5 998L672.9 982.4zM698.2 965.3L713.8 980.9L698.2 996.5L682.6 980.9zM707.9 969.8L723.5 985.4L707.9 1001L692.3 985.4zM717.5 974.8L733.1 990.4L717.5 1006L701.9 990.4zM727.2 977.3L742.8 992.9L727.2 1008.5L711.6 992.9zM736.9 976.4L752.5 992L736.9 1007.6L721.3 992zM746.6 978.3L762.2 993.9L746.6 1009.5L731 993.9zM756.2 982.1L771.8 997.7L756.2 1013.3L740.6 997.7zM765.9 978.1L781.5 993.7L765.9 1009.3L750.3 993.7zM775.6 983.7L791.2 999.3L775.6 1014.9L760 999.3zM785.2 990.9L800.8 1006.5L785.2 1022.1L769.6 1006.5zM794.9 989.5L810.5 1005.1L794.9 1020.7L779.3 1005.1zM804.6 993.7L820.2 1009.3L804.6 1024.9L789 1009.3zM814.3 990.6L829.9 1006.2L814.3 1021.8L798.7 1006.2zM823.9 994.2L839.5 1009.8L823.9 1025.4L808.3 1009.8zM833.6 994.9L849.2 1010.5L833.6 1026.1L818 1010.5zM843.3 1003.1L858.9 1018.7L843.3 1034.3L827.7 1018.7zM852.9 1003.4L868.5 1019L852.9 1034.6L837.3 1019zM862.6 1004.5L878.2 1020.1L862.6 1035.7L847 1020.1zM872.3 1002.2L887.9 1017.8L872.3 1033.4L856.7 1017.8zM881.9 1005.3L897.5 1020.9L881.9 1036.5L866.3 1020.9zM891.6 1003.7L907.2 1019.3L891.6 1034.9L876 1019.3zM901.3 1003.7L916.9 1019.3L901.3 1034.9L885.7 1019.3zM911 1001.5L926.6 1017.1L911 1032.7L895.4 1017.1zM920.6 1010.7L936.2 1026.3L920.6 1041.9L905 1026.3zM930.3 1003.3L945.9 1018.9L930.3 1034.5L914.7 1018.9zM940 1006.5L955.6 1022.1L940 1037.7L924.4 1022.1zM949.6 1013.8L965.2 1029.4L949.6 1045L934 1029.4zM959.3 1005.2L974.9 1020.8L959.3 1036.4L943.7 1020.8zM969 1004.9L984.6 1020.5L969 1036.1L953.4 1020.5zM978.7 1011.2L994.3 1026.8L978.7 1042.4L963.1 1026.8zM988.3 1009.6L1003.9 1025.2L988.3 1040.8L972.7 1025.2zM998 1005.1L1013.6 1020.7L998 1036.3L982.4 1020.7zM1007.7 1007.5L1023.3 1023.1L1007.7 1038.7L992.1 1023.1zM1017.3 1013.4L1032.9 1029L1017.3 1044.6L1001.7 1029zM1027 1012.8L1042.6 1028.4L1027 1044L1011.4 1028.4zM1036.7 1010.1L1052.3 1025.7L1036.7 1041.3L1021.1 1025.7zM1046.3 1011.5L1061.9 1027.1L1046.3 1042.7L1030.7 1027.1zM1056 1012.4L1071.6 1028L1056 1043.6L1040.4 1028zM1065.7 1004.2L1081.3 1019.8L1065.7 1035.4L1050.1 1019.8zM1075.4 1005L1091 1020.6L1075.4 1036.2L1059.8 1020.6zM1085 1010.4L1100.6 1026L1085 1041.6L1069.4 1026zM1094.7 1011.7L1110.3 1027.3L1094.7 1042.9L1079.1 1027.3zM1104.4 1012L1120 1027.6L1104.4 1043.2L1088.8 1027.6zM1114 1014.7L1129.6 1030.3L1114 1045.9L1098.4 1030.3zM1123.7 1008.5L1139.3 1024.1L1123.7 1039.7L1108.1 1024.1zM1133.4 1009.5L1149 1025.1L1133.4 1040.7L1117.8 1025.1z" fill="#B177DE"/>
<polyline points="205,1072.7 206,1072.7 206.9,1072.7 207.9,1072.7 208.9,1072.7 209.8,1072.7 210.8,1072.7 211.8,1072.7 212.7,1072.7 213.7,1072.7 214.7,1072.7 215.6,1072.7 216.6,1072.7 217.6,1072.7 218.5,1072.7 219.5,1072.7 220.5,1072.7 221.4,1072.7 222.4,1072.7 223.4,1072.7 224.3,1072.7 225.3,1072.7 226.3,1072.7 227.2,1072.7 228.2,1072.7 229.2,1072.7 230.1,1072.7 231.1,1072.7 232.1,1072.7 233,1072.7 234,1072.7 235,1072.7 235.9,1072.7 236.9,1072.7 237.9,1072.7 238.8,1072.7 239.8,1072.7 240.8,1072.7 241.7,1072.7 242.7,1072.7 243.7,1072.7 244.6,1072.7 245.6,1072.7 246.6,1072.7 247.6,1072.7 248.5,1072.7 249.5,1072.7 250.5,1072.7 251.4,1072.7 252.4,1072.7 253.4,1072.7 254.3,1069.1 255.3,1061.4 256.3,1051.1 257.2,1036.4 258.2,1018 259.2,996.2 260.1,971.6 261.1,944.7 262.1,916 263,885.9 264,852.6 265,814.2 265.9,770.8 266.9,722.6 267.9,669.8 268.8,612.6 269.8,551.2 270.8,485.7 271.7,413.2 272.7,321.2 273.7,256.9 274.6,206.5 275.6,166.1 276.6,137 277.5,119.4 278.5,107.4 279.5,99.1 280.4,93.5 281.4,89.7 282.4,88 283.3,92.7 284.3,102.2 285.3,114.1 286.2,129.4 287.2,145.6 288.2,163 289.1,181.5 290.1,197.8 291.1,210.1 292,222.1 293,236.8 294,252.7 294.9,267.3 295.9,279.4 296.9,290.5 297.8,302 298.8,314.6 299.8,327.6 300.7,341 301.7,354.7 302.7,368.8 303.6,383.3 304.6,397.6 305.6,412.2 306.5,426.6 307.5,438.6 308.5,448.6 309.4,457.6 310.4,465.5 311.4,472.3 321,519.8 323,500.1 325.9,545.3 330.7,562.7 340.4,514 350.1,514 359.7,554 369.4,589.4 379.1,629.6 388.7,662.3 398.4,686.1 408.1,709.3 417.8,725.3 427.4,741.7 437.1,754.9 446.8,774 456.4,804.7 466.1,851.7 475.8,872.7 485.4,893.7 495.1,907.3 504.8,922.4 514.5,936.3 524.1,943.1 533.8,949.2 543.5,954.7 553.1,959.5 562.8,964.6 572.5,973.2 582.2,979.6 591.8,976.8 601.5,970.6 611.2,967.1 620.8,962.1 630.5,964.6 640.2,967.5 649.9,972.2 659.5,976.1 669.2,982.1 678.9,978.4 688.5,989 698.2,983.2 707.9,986.8 717.5,990.4 727.2,987.3 736.9,991.6 746.6,994.8 756.2,999.6 765.9,1004.6 775.6,1001.7 785.2,1007.2 794.9,1007.2 804.6,1001.7 814.3,1010.4 823.9,1011.8 833.6,1012.5 843.3,1008.6 852.9,1010.9 862.6,1016.8 872.3,1014.7 881.9,1008.7 891.6,1011 901.3,1009.4 911,1017.3 920.6,1013 930.3,1013.5 940,1016.7 949.6,1021.4 959.3,1019.7 969,1013 978.7,1023.9 988.3,1013.2 998,1020.3 1007.7,1014.9 1017.3,1020.6 1027,1024.3 1036.7,1019.8 1046.3,1024.1 1056,1017.3 1065.7,1017.6 1075.4,1025.1 1085,1027.1 1094.7,1021 1104.4,1023 1114,1020.3 1123.7,1016.3 1133.4,1025.3 1143.1,1019.5 1152.7,1024.1 1162.4,1031.3 1172.1,1033.8 1181.7,1028.3 1191.4,1036.7 1201.1,1070.3" fill="none" stroke="#CC9900" stroke-width="10.5" stroke-linejoin="round"/>
<path d="M187.4 1072.7L213.8 1057.7L213.8 1087.7zM197.1 1072.7L223.5 1057.7L223.5 1087.7zM206.7 1072.7L233.1 1057.7L233.1 1087.7zM216.4 1072.7L242.8 1057.7L242.8 1087.7zM226.1 1072.7L252.5 1057.7L252.5 1087.7zM235.8 1072.7L262.2 1057.7L262.2 1087.7zM245.4 885.9L271.8 870.9L271.8 900.9zM255.1 321.2L281.5 306.2L281.5 336.2zM264.8 88L291.2 73L291.2 103zM274.4 222.1L300.8 207.1L300.8 237.1zM284.1 354.7L310.5 339.7L310.5 369.7zM293.8 472.3L320.2 457.3L320.2 487.3zM303.4 519.8L329.8 504.8L329.8 534.8zM313.1 562.7L339.5 547.7L339.5 577.7zM322.8 514L349.2 499L349.2 529zM332.5 514L358.9 499L358.9 529zM342.1 554L368.5 539L368.5 569zM351.8 589.4L378.2 574.4L378.2 604.4zM361.5 629.6L387.9 614.6L387.9 644.6zM371.1 662.3L397.5 647.3L397.5 677.3zM380.8 686.1L407.2 671.1L407.2 701.1zM390.5 709.3L416.9 694.3L416.9 724.3zM400.2 725.3L426.6 710.3L426.6 740.3zM409.8 741.7L436.2 726.7L436.2 756.7zM419.5 754.9L445.9 739.9L445.9 769.9zM429.2 774L455.6 759L455.6 789zM438.8 804.7L465.2 789.7L465.2 819.7zM448.5 851.7L474.9 836.7L474.9 866.7zM458.2 872.7L484.6 857.7L484.6 887.7zM467.8 893.7L494.2 878.7L494.2 908.7zM477.5 907.3L503.9 892.3L503.9 922.3zM487.2 922.4L513.6 907.4L513.6 937.4zM496.9 936.3L523.3 921.3L523.3 951.3zM506.5 943.1L532.9 928.1L532.9 958.1zM516.2 949.2L542.6 934.2L542.6 964.2zM525.9 954.7L552.3 939.7L552.3 969.7zM535.5 959.5L561.9 944.5L561.9 974.5zM545.2 964.6L571.6 949.6L571.6 979.6zM554.9 973.2L581.3 958.2L581.3 988.2zM564.6 979.6L591 964.6L591 994.6zM574.2 976.8L600.6 961.8L600.6 991.8zM583.9 970.6L610.3 955.6L610.3 985.6zM593.6 967.1L620 952.1L620 982.1zM603.2 962.1L629.6 947.1L629.6 977.1zM612.9 964.6L639.3 949.6L639.3 979.6zM622.6 967.5L649 952.5L649 982.5zM632.3 972.2L658.7 957.2L658.7 987.2zM641.9 976.1L668.3 961.1L668.3 991.1zM651.6 982.1L678 967.1L678 997.1zM661.3 978.4L687.7 963.4L687.7 993.4zM670.9 989L697.3 974L697.3 1004zM680.6 983.2L707 968.2L707 998.2zM690.3 986.8L716.7 971.8L716.7 1001.8zM699.9 990.4L726.3 975.4L726.3 1005.4zM709.6 987.3L736 972.3L736 1002.3zM719.3 991.6L745.7 976.6L745.7 1006.6zM729 994.8L755.4 979.8L755.4 1009.8zM738.6 999.6L765 984.6L765 1014.6zM748.3 1004.6L774.7 989.6L774.7 1019.6zM758 1001.7L784.4 986.7L784.4 1016.7zM767.6 1007.2L794 992.2L794 1022.2zM777.3 1007.2L803.7 992.2L803.7 1022.2zM787 1001.7L813.4 986.7L813.4 1016.7zM796.7 1010.4L823.1 995.4L823.1 1025.4zM806.3 1011.8L832.7 996.8L832.7 1026.8zM816 1012.5L842.4 997.5L842.4 1027.5zM825.7 1008.6L852.1 993.6L852.1 1023.6zM835.3 1010.9L861.7 995.9L861.7 1025.9zM845 1016.8L871.4 1001.8L871.4 1031.8zM854.7 1014.7L881.1 999.7L881.1 1029.7zM864.3 1008.7L890.7 993.7L890.7 1023.7zM874 1011L900.4 996L900.4 1026zM883.7 1009.4L910.1 994.4L910.1 1024.4zM893.4 1017.3L919.8 1002.3L919.8 1032.3zM903 1013L929.4 998L929.4 1028zM912.7 1013.5L939.1 998.5L939.1 1028.5zM922.4 1016.7L948.8 1001.7L948.8 1031.7zM932 1021.4L958.4 1006.4L958.4 1036.4zM941.7 1019.7L968.1 1004.7L968.1 1034.7zM951.4 1013L977.8 998L977.8 1028zM961.1 1023.9L987.5 1008.9L987.5 1038.9zM970.7 1013.2L997.1 998.2L997.1 1028.2zM980.4 1020.3L1006.8 1005.3L1006.8 1035.3zM990.1 1014.9L1016.5 999.9L1016.5 1029.9zM999.7 1020.6L1026.1 1005.6L1026.1 1035.6zM1009.4 1024.3L1035.8 1009.3L1035.8 1039.3zM1019.1 1019.8L1045.5 1004.8L1045.5 1034.8zM1028.7 1024.1L1055.1 1009.1L1055.1 1039.1zM1038.4 1017.3L1064.8 1002.3L1064.8 1032.3zM1048.1 1017.6L1074.5 1002.6L1074.5 1032.6zM1057.8 1025.1L1084.2 1010.1L1084.2 1040.1zM1067.4 1027.1L1093.8 1012.1L1093.8 1042.1zM1077.1 1021L1103.5 1006L1103.5 1036zM1086.8 1023L1113.2 1008L1113.2 1038zM1096.4 1020.3L1122.8 1005.3L1122.8 1035.3zM1106.1 1016.3L1132.5 1001.3L1132.5 1031.3zM1115.8 1025.3L1142.2 1010.3L1142.2 1040.3zM1125.5 1019.5L1151.9 1004.5L1151.9 1034.5zM1135.1 1024.1L1161.5 1009.1L1161.5 1039.1zM1144.8 1031.3L1171.2 1016.3L1171.2 1046.3zM1154.5 1033.8L1180.9 1018.8L1180.9 1048.8zM1164.1 1028.3L1190.5 1013.3L1190.5 1043.3zM1173.8 1036.7L1200.2 1021.7L1200.2 1051.7zM1183.5 1070.3L1209.9 1055.3L1209.9 1085.3z" fill="#CC9900"/>
<polyline points="205,1073.2 206,1073.2 206.9,1073.2 207.9,1073.2 208.9,1073.2 209.8,1073.2 210.8,1073.2 211.8,1073.2 212.7,1073.2 213.7,1073.2 214.7,1073.2 215.6,1073.2 216.6,1073.2 217.6,1073.2 218.5,1073.2 219.5,1073.2 220.5,1073.2 221.4,1073.2 222.4,1073.2 223.4,1073.2 224.3,1073.2 225.3,1073.2 226.3,1073.2 227.2,1073.2 228.2,1073.2 229.2,1073.2 230.1,1073.2 231.1,1073.2 232.1,1073.2 233,1073.2 234,1073.2 235,1073.1 235.9,1072.8 236.9,1072.2 237.9,1071.4 238.8,1070.4 239.8,1069.2 240.8,1067.7 241.7,1066.1 242.7,1064.3 243.7,1062.3 244.6,1055.5 245.6,1040.1 246.6,1017.4 247.6,988.6 248.5,954.8 249.5,917.2 250.5,877.2 251.4,835.8 252.4,794.3 253.4,753.8 254.3,708.5 255.3,654.5 256.3,596.3 257.2,538.4 258.2,485.2 259.2,441.3 260.1,407.1 261.1,380.2 262.1,360.7 263,344.3 264,326.2 265,319.4 265.9,317.7 266.9,319.1 267.9,322.2 268.8,324.6 269.8,326.2 270.8,327.6 271.7,328.6 272.7,329 273.7,328.6 274.6,327.7 275.6,326.4 276.6,323.5 277.5,318.8 278.5,314.2 279.5,310 280.4,305.6 281.4,301.6 282.4,298.6 283.3,296.2 284.3,294.2 285.3,293.4 286.2,293.6 287.2,294.3 288.2,295.1 289.1,295.7 290.1,296.4 291.1,297.2 292,298.6 293,302.8 294,310.5 294.9,319.4 295.9,329.5 296.9,341.6 297.8,354.2 298.8,367.7 299.8,382.2 300.7,396.2 301.7,408 302.7,417.2 303.6,425.2 304.6,432.8 305.6,440.9 306.5,449.4 307.5,458 308.5,466.7 309.4,475.2 310.4,483.5 311.4,491.4 321,562.7 330.7,559.2 340.4,526.9 350.1,540.1 359.7,523.2 369.4,533.1 379.1,531.4 388.7,547.7 398.4,559.2 408.1,570 417.8,599.5 427.4,632.2 437.1,662.3 446.8,696.8 456.4,752.1 466.1,792.1 475.8,816.4 485.4,851.7 495.1,874.6 504.8,896.3 514.5,918.9 524.1,936.3 533.8,947.3 543.5,952 553.1,960.9 562.8,962.1 567.6,962.9 572.5,968.9 582.2,971 591.8,971.9 601.5,973.4 611.2,987.3 620.8,987.1 630.5,989.9 640.2,987.3 649.9,995 659.5,993.1 669.2,991.2 678.9,998.7 688.5,996.8 698.2,998.1 707.9,997.2 717.5,1000.3 727.2,1006.4 736.9,1003.3 746.6,1010.6 756.2,1005.1 765.9,1001.5 775.6,998.7 785.2,1006.1 794.9,1004.6 804.6,1008.8 814.3,1005.3 823.9,1007.2 833.6,1013.4 843.3,1011 852.9,1012.2 862.6,1008.6 872.3,1009.7 881.9,1014.4 891.6,1010.1 901.3,1018.2 911,1020.9 920.6,1013.3 930.3,1014 940,1022.9 949.6,1019.4 959.3,1025 969,1022.6 978.7,1024.7 988.3,1022.5 998,1020.5 1007.7,1024.3 1017.3,1026.7 1027,1027.4 1036.7,1024.5 1046.3,1022 1056,1027.4 1065.7,1026.4 1075.4,1025.5 1085,1028.2 1094.7,1027.5 1104.4,1025.2 1114,1025.5 1123.7,1022.1 1133.4,1027.3 1143.1,1022.5 1152.7,1024.7 1162.4,1032.5 1172.1,1037.7 1181.7,1036.6 1191.4,1042.2 1201.1,1044.8 1210.7,1042.7 1220.4,1050.2 1230.1,1050.6 1239.8,1047.4 1249.4,1045.6 1259.1,1063.5 1268.8,1054.5 1278.4,1065.2 1288.1,1058.7 1297.8,1061.3 1307.5,1063.2 1317.1,1062.5 1326.8,1057.4 1336.5,1063.9 1346.1,1066.5 1355.8,1063.7 1365.5,1067.4 1375.2,1075.3" fill="none" stroke="#00CBCC" stroke-width="10.5" stroke-linejoin="round"/>
<path d="M222.6 1073.2L196.2 1058.2L196.2 1088.2zM232.3 1073.2L205.9 1058.2L205.9 1088.2zM241.9 1073.2L215.5 1058.2L215.5 1088.2zM251.6 1073.2L225.2 1058.2L225.2 1088.2zM261.3 1062.3L234.9 1047.3L234.9 1077.3zM271 753.8L244.6 738.8L244.6 768.8zM280.6 344.3L254.2 329.3L254.2 359.3zM290.3 329L263.9 314L263.9 344zM300 298.6L273.6 283.6L273.6 313.6zM309.6 298.6L283.2 283.6L283.2 313.6zM319.3 408L292.9 393L292.9 423zM329 491.4L302.6 476.4L302.6 506.4zM338.6 562.7L312.2 547.7L312.2 577.7zM348.3 559.2L321.9 544.2L321.9 574.2zM358 526.9L331.6 511.9L331.6 541.9zM367.7 540.1L341.3 525.1L341.3 555.1zM377.3 523.2L350.9 508.2L350.9 538.2zM387 533.1L360.6 518.1L360.6 548.1zM396.7 531.4L370.3 516.4L370.3 546.4zM406.3 547.7L379.9 532.7L379.9 562.7zM416 559.2L389.6 544.2L389.6 574.2zM425.7 570L399.3 555L399.3 585zM435.4 599.5L409 584.5L409 614.5zM445 632.2L418.6 617.2L418.6 647.2zM454.7 662.3L428.3 647.3L428.3 677.3zM464.4 696.8L438 681.8L438 711.8zM474 752.1L447.6 737.1L447.6 767.1zM483.7 792.1L457.3 777.1L457.3 807.1zM493.4 816.4L467 801.4L467 831.4zM503 851.7L476.6 836.7L476.6 866.7zM512.7 874.6L486.3 859.6L486.3 889.6zM522.4 896.3L496 881.3L496 911.3zM532.1 918.9L505.7 903.9L505.7 933.9zM541.7 936.3L515.3 921.3L515.3 951.3zM551.4 947.3L525 932.3L525 962.3zM561.1 952L534.7 937L534.7 967zM570.7 960.9L544.3 945.9L544.3 975.9zM580.4 962.1L554 947.1L554 977.1zM590.1 968.9L563.7 953.9L563.7 983.9zM599.8 971L573.4 956L573.4 986zM609.4 971.9L583 956.9L583 986.9zM619.1 973.4L592.7 958.4L592.7 988.4zM628.8 987.3L602.4 972.3L602.4 1002.3zM638.4 987.1L612 972.1L612 1002.1zM648.1 989.9L621.7 974.9L621.7 1004.9zM657.8 987.3L631.4 972.3L631.4 1002.3zM667.5 995L641.1 980L641.1 1010zM677.1 993.1L650.7 978.1L650.7 1008.1zM686.8 991.2L660.4 976.2L660.4 1006.2zM696.5 998.7L670.1 983.7L670.1 1013.7zM706.1 996.8L679.7 981.8L679.7 1011.8zM715.8 998.1L689.4 983.1L689.4 1013.1zM725.5 997.2L699.1 982.2L699.1 1012.2zM735.1 1000.3L708.7 985.3L708.7 1015.3zM744.8 1006.4L718.4 991.4L718.4 1021.4zM754.5 1003.3L728.1 988.3L728.1 1018.3zM764.2 1010.6L737.8 995.6L737.8 1025.6zM773.8 1005.1L747.4 990.1L747.4 1020.1zM783.5 1001.5L757.1 986.5L757.1 1016.5zM793.2 998.7L766.8 983.7L766.8 1013.7zM802.8 1006.1L776.4 991.1L776.4 1021.1zM812.5 1004.6L786.1 989.6L786.1 1019.6zM822.2 1008.8L795.8 993.8L795.8 1023.8zM831.9 1005.3L805.5 990.3L805.5 1020.3zM841.5 1007.2L815.1 992.2L815.1 1022.2zM851.2 1013.4L824.8 998.4L824.8 1028.4zM860.9 1011L834.5 996L834.5 1026zM870.5 1012.2L844.1 997.2L844.1 1027.2zM880.2 1008.6L853.8 993.6L853.8 1023.6zM889.9 1009.7L863.5 994.7L863.5 1024.7zM899.5 1014.4L873.1 999.4L873.1 1029.4zM909.2 1010.1L882.8 995.1L882.8 1025.1zM918.9 1018.2L892.5 1003.2L892.5 1033.2zM928.6 1020.9L902.2 1005.9L902.2 1035.9zM938.2 1013.3L911.8 998.3L911.8 1028.3zM947.9 1014L921.5 999L921.5 1029zM957.6 1022.9L931.2 1007.9L931.2 1037.9zM967.2 1019.4L940.8 1004.4L940.8 1034.4zM976.9 1025L950.5 1010L950.5 1040zM986.6 1022.6L960.2 1007.6L960.2 1037.6zM996.3 1024.7L969.9 1009.7L969.9 1039.7zM1005.9 1022.5L979.5 1007.5L979.5 1037.5zM1015.6 1020.5L989.2 1005.5L989.2 1035.5zM1025.3 1024.3L998.9 1009.3L998.9 1039.3zM1034.9 1026.7L1008.5 1011.7L1008.5 1041.7zM1044.6 1027.4L1018.2 1012.4L1018.2 1042.4zM1054.3 1024.5L1027.9 1009.5L1027.9 1039.5zM1063.9 1022L1037.5 1007L1037.5 1037zM1073.6 1027.4L1047.2 1012.4L1047.2 1042.4zM1083.3 1026.4L1056.9 1011.4L1056.9 1041.4zM1093 1025.5L1066.6 1010.5L1066.6 1040.5zM1102.6 1028.2L1076.2 1013.2L1076.2 1043.2zM1112.3 1027.5L1085.9 1012.5L1085.9 1042.5zM1122 1025.2L1095.6 1010.2L1095.6 1040.2zM1131.6 1025.5L1105.2 1010.5L1105.2 1040.5zM1141.3 1022.1L1114.9 1007.1L1114.9 1037.1zM1151 1027.3L1124.6 1012.3L1124.6 1042.3zM1160.7 1022.5L1134.3 1007.5L1134.3 1037.5zM1170.3 1024.7L1143.9 1009.7L1143.9 1039.7zM1180 1032.5L1153.6 1017.5L1153.6 1047.5zM1189.7 1037.7L1163.3 1022.7L1163.3 1052.7zM1199.3 1036.6L1172.9 1021.6L1172.9 1051.6zM1209 1042.2L1182.6 1027.2L1182.6 1057.2zM1218.7 1044.8L1192.3 1029.8L1192.3 1059.8zM1228.3 1042.7L1201.9 1027.7L1201.9 1057.7zM1238 1050.2L1211.6 1035.2L1211.6 1065.2zM1247.7 1050.6L1221.3 1035.6L1221.3 1065.6zM1257.4 1047.4L1231 1032.4L1231 1062.4zM1267 1045.6L1240.6 1030.6L1240.6 1060.6zM1276.7 1063.5L1250.3 1048.5L1250.3 1078.5zM1286.4 1054.5L1260 1039.5L1260 1069.5zM1296 1065.2L1269.6 1050.2L1269.6 1080.2zM1305.7 1058.7L1279.3 1043.7L1279.3 1073.7zM1315.4 1061.3L1289 1046.3L1289 1076.3zM1325.1 1063.2L1298.7 1048.2L1298.7 1078.2zM1334.7 1062.5L1308.3 1047.5L1308.3 1077.5zM1344.4 1057.4L1318 1042.4L1318 1072.4zM1354.1 1063.9L1327.7 1048.9L1327.7 1078.9zM1363.7 1066.5L1337.3 1051.5L1337.3 1081.5zM1373.4 1063.7L1347 1048.7L1347 1078.7zM1383.1 1067.4L1356.7 1052.4L1356.7 1082.4zM1392.8 1075.3L1366.4 1060.3L1366.4 1090.3z" fill="#00CBCC"/>
</g>
<g id="zoom-box" fill="#ff0000" fill-opacity="0.5" shape-rendering="crispEdges">
<rect x="230" y="61.9" width="155.1" height="3.2"/><rect x="230" y="391.9" width="155.1" height="3.2"/>
<rect x="230" y="61.9" width="3.2" height="333.2"/><rect x="381.9" y="65.1" width="3.2" height="326.8"/>
</g>
<polygon points="386.6,217.2 960.7,594.3 951.6,608.2 1041.7,638.6 978,568 968.9,581.9 394.8,204.8" fill="#ff0000"/>
<g id="legend">
<path d="M1064 72.4H1190" stroke="#515151" stroke-width="11" fill="none"/>
<path d="M1115 60.7h24v24h-24z" fill="#515151"/>
<text transform="translate(1201.4 91.2) scale(0.9713 1)" font-size="51">PET<tspan font-size="61.2" dx="-1.4" dy="5.1">/</tspan><tspan dx="-1.4" dy="-5.1">12ZDP</tspan></text>
<path d="M1064 143.2H1190" stroke="#F14040" stroke-width="11" fill="none"/>
<path d="M1114.1 143.5a12.9 12.9 0 1 0 25.8 0a12.9 12.9 0 1 0 -25.8 0z" fill="#F14040"/>
<text transform="translate(1201.4 162) scale(0.9614 1)" font-size="51">PET<tspan font-size="61.2" dx="-1.4" dy="5.1">/</tspan><tspan dx="-1.4" dy="-5.1">11ZDP</tspan><tspan font-size="61.2" dx="-1.4" dy="5.1">/</tspan><tspan dx="-1.4" dy="-5.1">1DBDPE</tspan></text>
<path d="M1064 214.1H1190" stroke="#1A6FDF" stroke-width="11" fill="none"/>
<path d="M1127 196.8L1142 223.2L1112 223.2z" fill="#1A6FDF"/>
<text transform="translate(1201.4 232.9) scale(0.9592 1)" font-size="51">PET<tspan font-size="61.2" dx="-1.4" dy="5.1">/</tspan><tspan dx="-1.4" dy="-5.1">9ZDP</tspan><tspan font-size="61.2" dx="-1.4" dy="5.1">/</tspan><tspan dx="-1.4" dy="-5.1">3DBDPE</tspan></text>
<path d="M1064 285.3H1190" stroke="#37AD6B" stroke-width="11" fill="none"/>
<path d="M1127 303.2L1142 276.8L1112 276.8z" fill="#37AD6B"/>
<text transform="translate(1201.4 304.1) scale(0.9592 1)" font-size="51">PET<tspan font-size="61.2" dx="-1.4" dy="5.1">/</tspan><tspan dx="-1.4" dy="-5.1">7ZDP</tspan><tspan font-size="61.2" dx="-1.4" dy="5.1">/</tspan><tspan dx="-1.4" dy="-5.1">5DBDPE</tspan></text>
<path d="M1064 356.2H1190" stroke="#B177DE" stroke-width="11" fill="none"/>
<path d="M1127 340.9L1142.6 356.5L1127 372.1L1111.4 356.5z" fill="#B177DE"/>
<text transform="translate(1201.4 375) scale(0.9592 1)" font-size="51">PET<tspan font-size="61.2" dx="-1.4" dy="5.1">/</tspan><tspan dx="-1.4" dy="-5.1">4ZDP</tspan><tspan font-size="61.2" dx="-1.4" dy="5.1">/</tspan><tspan dx="-1.4" dy="-5.1">8DBDPE</tspan></text>
<path d="M1064 426.9H1190" stroke="#CC9900" stroke-width="11" fill="none"/>
<path d="M1109.4 427.2L1135.8 412.2L1135.8 442.2z" fill="#CC9900"/>
<text transform="translate(1201.4 445.7) scale(0.9573 1)" font-size="51">PET<tspan font-size="61.2" dx="-1.4" dy="5.1">/</tspan><tspan dx="-1.4" dy="-5.1">2ZDP</tspan><tspan font-size="61.2" dx="-1.4" dy="5.1">/</tspan><tspan dx="-1.4" dy="-5.1">10DBDPE</tspan></text>
<path d="M1064 498H1190" stroke="#00CBCC" stroke-width="11" fill="none"/>
<path d="M1144.6 498.3L1118.2 483.3L1118.2 513.3z" fill="#00CBCC"/>
<text transform="translate(1201.5 516.8) scale(0.9442 1)" font-size="51">PET<tspan font-size="61.2" dx="-1.4" dy="5.1">/</tspan><tspan dx="-1.4" dy="-5.1">12DBDPE</tspan></text>
</g>
<g id="inset">
<rect x="1056.7" y="575.6" width="542.8" height="388.7" fill="#fff"/>
<g stroke="#000" stroke-width="5" fill="none" shape-rendering="crispEdges">
<rect x="1056.5" y="575.5" width="543" height="389"/>
<path d="M1124.5 964.3v-10.5M1192.4 964.3v-20.3M1260.2 964.3v-10.5M1328.1 964.3v-20.3M1396 964.3v-10.5M1463.8 964.3v-20.3M1531.7 964.3v-10.5M1056.7 906.7h20.3M1056.7 819.1h10.5M1056.7 731.5h20.3M1056.7 643.9h10.5"/>
</g>
<g clip-path="url(#ci)">
<polyline points="1117.8,1121.4 1124.5,1069.6 1131.3,1023.8 1138.1,980.7 1144.9,941.5 1151.7,905.4 1158.5,871.7 1165.3,838.8 1172,810.3 1178.8,788.4 1185.6,769.6 1192.4,752.5 1199.2,735.8 1206,722.7 1212.8,713.6 1219.5,706.4 1226.3,703.5 1233.1,705.8 1239.9,710.5 1246.7,716.1 1253.5,723.3 1260.2,731.5 1267,741.5 1273.8,753 1280.6,763 1287.4,771.2 1294.2,778.4 1301,784.1 1307.7,788.3 1314.5,791.8 1321.3,794.9 1328.1,798.1 1334.9,801.4 1341.7,804.7 1348.5,807.8 1355.2,810.3 1362,812 1368.8,813.5 1375.6,815.6 1382.4,820.8 1389.2,829.1 1396,838.4 1402.7,848.5 1409.5,860 1416.3,871.7 1423.1,883.2 1429.9,894.9 1436.7,906.7 1443.4,919.7 1450.2,933.6 1457,945.9 1463.8,954 1470.6,958.9 1477.4,963.3 1484.2,967.1 1490.9,970.5 1497.7,973.5 1504.5,976.1 1511.3,978.3 1518.1,980.4 1524.9,982.2 1531.7,983.8 1538.4,985.2 1545.2,986.4 1552,987.4 1558.8,988.2 1565.6,989 1572.4,989.9" fill="none" stroke="#515151" stroke-width="10.5" stroke-linejoin="round"/>
<path d="M1180.8 740.9h23.2v23.2h-23.2zM1248.7 719.9h23.2v23.2h-23.2zM1316.5 786.5h23.2v23.2h-23.2zM1384.4 826.8h23.2v23.2h-23.2zM1452.2 942.4h23.2v23.2h-23.2zM1520.1 972.2h23.2v23.2h-23.2z" fill="#515151"/>
<polyline points="1138.1,1149.3 1144.9,1084.5 1151.7,1021 1158.5,964.5 1165.3,913 1172,871.7 1178.8,844.2 1185.6,822.4 1192.4,805.1 1199.2,790.7 1206,780.6 1212.8,773.9 1219.5,769.2 1226.3,768.7 1233.1,772.4 1239.9,777.8 1246.7,782.3 1253.5,785.2 1260.2,787.6 1267,789.3 1273.8,790.7 1280.6,792.8 1287.4,797.2 1294.2,803.7 1301,810.3 1307.7,816.2 1314.5,821.9 1321.3,828 1328.1,834.9 1334.9,842.8 1341.7,851.8 1348.5,861.5 1355.2,871.7 1362,882.6 1368.8,894.4 1375.6,906.7 1382.4,920.7 1389.2,935.2 1396,947 1402.7,955.1 1409.5,961.7 1416.3,968 1423.1,974.8 1429.9,981.6 1436.7,988.4 1443.4,995 1450.2,1001.2 1457,1006.9 1463.8,1011.8 1470.6,1016.2 1477.4,1020.2 1484.2,1023.9 1490.9,1027.4 1497.7,1030.7 1504.5,1033.9 1511.3,1037 1518.1,1040.2 1524.9,1043.5 1531.7,1046.9 1538.4,1050.4 1545.2,1054 1552,1057.7 1558.8,1061.4 1565.6,1065 1572.4,1068.6" fill="none" stroke="#F14040" stroke-width="10.5" stroke-linejoin="round"/>
<path d="M1179.5 805.1a12.9 12.9 0 1 0 25.8 0a12.9 12.9 0 1 0 -25.8 0zM1247.3 787.6a12.9 12.9 0 1 0 25.8 0a12.9 12.9 0 1 0 -25.8 0zM1315.2 834.9a12.9 12.9 0 1 0 25.8 0a12.9 12.9 0 1 0 -25.8 0zM1383 947a12.9 12.9 0 1 0 25.8 0a12.9 12.9 0 1 0 -25.8 0z" fill="#F14040"/>
<polyline points="1138.1,1124.7 1144.9,1030.2 1151.7,959 1158.5,909.9 1165.3,871.7 1172,841.7 1178.8,819.1 1185.6,803.3 1192.4,791.1 1199.2,779.5 1206,777.9 1212.8,782.3 1219.5,790.4 1226.3,801.6 1233.1,815 1239.9,828.9 1246.7,841.9 1253.5,852.6 1260.2,861.1 1267,866.4 1273.8,871.7 1280.6,881.5 1287.4,892.6 1294.2,900.6 1301,907.3 1307.7,913.7 1314.5,920.1 1321.3,926.3 1328.1,933 1334.9,940.7 1341.7,949.2 1348.5,957.4 1355.2,964.5 1362,970.4 1368.8,975.7 1375.6,980.7 1382.4,985.3 1389.2,989.8 1396,994.3 1402.7,998.7 1409.5,1002.8 1416.3,1006.9 1423.1,1010.8 1429.9,1014.6 1436.7,1018.5 1443.4,1022.3 1450.2,1026.3 1457,1030.3 1463.8,1034.6 1470.6,1039.1 1477.4,1043.7 1484.2,1048.5 1490.9,1053.4 1497.7,1058.4 1504.5,1063.3 1511.3,1068.2 1518.1,1072.9 1524.9,1077.5 1531.7,1081.9 1538.4,1086 1545.2,1090 1552,1093.8 1558.8,1097.6 1565.6,1101.3 1572.4,1104.9" fill="none" stroke="#1A6FDF" stroke-width="10.5" stroke-linejoin="round"/>
<path d="M1192.4 773.5L1207.4 799.9L1177.4 799.9zM1260.2 843.5L1275.2 869.9L1245.2 869.9zM1328.1 915.4L1343.1 941.8L1313.1 941.8zM1396 976.7L1411 1003.1L1381 1003.1z" fill="#1A6FDF"/>
<polyline points="1144.9,1155.9 1151.7,1118.1 1158.5,1080.6 1165.3,1044.2 1172,1009.4 1178.8,976.8 1185.6,946.9 1192.4,920.7 1199.2,898.1 1206,880.4 1212.8,867.5 1219.5,857 1226.3,850.6 1233.1,847.1 1239.9,844.6 1246.7,843.6 1253.5,845.4 1260.2,848.9 1267,852.8 1273.8,857.7 1280.6,862.9 1287.4,867.9 1294.2,873.3 1301,880.4 1307.7,892.1 1314.5,906.7 1321.3,922.2 1328.1,936.5 1334.9,946.9 1341.7,955.7 1348.5,964.5 1355.2,974 1362,983.7 1368.8,993.4 1375.6,1003 1382.4,1012.3 1389.2,1021.1 1396,1029.3 1402.7,1037 1409.5,1044.5 1416.3,1051.7 1423.1,1058.6 1429.9,1065.3 1436.7,1071.9 1443.4,1078.2 1450.2,1084.3 1457,1090.2 1463.8,1095.9 1470.6,1101.5 1477.4,1107.1 1484.2,1112.6 1490.9,1117.9 1497.7,1123 1504.5,1128 1511.3,1132.7 1518.1,1137.1 1524.9,1141.2 1531.7,1145 1538.4,1148.4 1545.2,1151.6 1552,1154.6 1558.8,1157.4 1565.6,1160.1 1572.4,1162.7" fill="none" stroke="#37AD6B" stroke-width="10.5" stroke-linejoin="round"/>
<path d="M1192.4 938.3L1207.4 911.9L1177.4 911.9zM1260.2 866.5L1275.2 840.1L1245.2 840.1zM1328.1 954.1L1343.1 927.7L1313.1 927.7z" fill="#37AD6B"/>
<polyline points="1199.2,1135.8 1206,1050.3 1212.8,975.7 1219.5,929.6 1226.3,889.6 1233.1,845.9 1239.9,808.8 1246.7,794 1253.5,782.8 1260.2,777.1 1267,779.3 1273.8,784.1 1280.6,793.2 1287.4,806.6 1294.2,819.1 1301,828.4 1307.7,836.4 1314.5,844.3 1321.3,853 1328.1,863.8 1334.9,879.3 1341.7,898.3 1348.5,915.5 1355.2,928.6 1362,940.3 1368.8,951.8 1375.6,964.5 1382.4,980.4 1389.2,997.5 1396,1011.8 1402.7,1023 1409.5,1033.4 1416.3,1043.1 1423.1,1052.2 1429.9,1060.6 1436.7,1068.5 1443.4,1076 1450.2,1083 1457,1089.6 1463.8,1095.9 1470.6,1102.3 1477.4,1108.9 1484.2,1115.6 1490.9,1122.1 1497.7,1128.2 1504.5,1133.7 1511.3,1138.3 1518.1,1141.9 1524.9,1144.2 1531.7,1145 1538.4,1145 1545.2,1144.9 1552,1144.8 1558.8,1144.7 1565.6,1144.5 1572.4,1144.3" fill="none" stroke="#B177DE" stroke-width="10.5" stroke-linejoin="round"/>
<path d="M1260.2 761.5L1275.8 777.1L1260.2 792.7L1244.7 777.1zM1328.1 848.2L1343.7 863.8L1328.1 879.4L1312.5 863.8z" fill="#B177DE"/>
<polyline points="1233.1,1141 1239.9,1079.1 1246.7,1013 1253.5,939.9 1260.2,847.1 1267,782.3 1273.8,731.5 1280.6,690.8 1287.4,661.4 1294.2,643.7 1301,631.6 1307.7,623.2 1314.5,617.6 1321.3,613.8 1328.1,612 1334.9,616.8 1341.7,626.4 1348.5,638.4 1355.2,653.8 1362,670.2 1368.8,687.7 1375.6,706.3 1382.4,722.7 1389.2,735.2 1396,747.3 1402.7,762.1 1409.5,778.1 1416.3,792.8 1423.1,805 1429.9,816.2 1436.7,827.9 1443.4,840.5 1450.2,853.7 1457,867.2 1463.8,880.9 1470.6,895.2 1477.4,909.8 1484.2,924.2 1490.9,938.9 1497.7,953.4 1504.5,965.6 1511.3,975.7 1518.1,984.7 1524.9,992.6 1531.7,999.6 1538.4,1006.1 1545.2,1012.7 1552,1019.3 1558.8,1025.6 1565.6,1031.5 1572.4,1036.7" fill="none" stroke="#CC9900" stroke-width="10.5" stroke-linejoin="round"/>
<path d="M1242.7 847.1L1269 832.1L1269 862.1zM1310.5 612L1336.9 597L1336.9 627zM1378.4 747.3L1404.8 732.3L1404.8 762.3zM1446.2 880.9L1472.6 865.9L1472.6 895.9zM1514.1 999.6L1540.5 984.6L1540.5 1014.6z" fill="#CC9900"/>
<polyline points="1144.9,1124.6 1151.7,1066.2 1158.5,1012.6 1165.3,968.3 1172,933.8 1178.8,906.7 1185.6,887 1192.4,870.4 1199.2,852.2 1206,845.3 1212.8,843.6 1219.5,845.1 1226.3,848.1 1233.1,850.6 1239.9,852.2 1246.7,853.6 1253.5,854.6 1260.2,855 1267,854.7 1273.8,853.7 1280.6,852.4 1287.4,849.5 1294.2,844.8 1301,840.1 1307.7,835.8 1314.5,831.4 1321.3,827.4 1328.1,824.4 1334.9,821.9 1341.7,819.9 1348.5,819.1 1355.2,819.4 1362,820.1 1368.8,820.9 1375.6,821.5 1382.4,822.1 1389.2,823 1396,824.4 1402.7,828.6 1409.5,836.4 1416.3,845.4 1423.1,855.6 1429.9,867.7 1436.7,880.4 1443.4,894 1450.2,908.7 1457,922.8 1463.8,934.7 1470.6,944 1477.4,952 1484.2,959.7 1490.9,967.9 1497.7,976.5 1504.5,985.1 1511.3,993.8 1518.1,1002.4 1524.9,1010.8 1531.7,1018.8 1538.4,1027.2 1545.2,1036.3 1552,1045.9 1558.8,1055.4 1565.6,1064.5 1572.4,1072.9" fill="none" stroke="#00CBCC" stroke-width="10.5" stroke-linejoin="round"/>
<path d="M1210 870.4L1183.6 855.4L1183.6 885.4zM1277.8 855L1251.5 840L1251.5 870zM1345.7 824.4L1319.3 809.4L1319.3 839.4zM1413.5 824.4L1387.2 809.4L1387.2 839.4zM1481.4 934.7L1455 919.7L1455 949.7z" fill="#00CBCC"/>
</g>
<text x="1057" y="994.3" text-anchor="middle" font-size="28.7">40</text>
<text x="1192.7" y="994.3" text-anchor="middle" font-size="28.7">60</text>
<text x="1328.4" y="994.3" text-anchor="middle" font-size="28.7">80</text>
<text x="1464.1" y="994.3" text-anchor="middle" font-size="28.7">100</text>
<text x="1599.8" y="994.3" text-anchor="middle" font-size="28.7">120</text>
<text x="992.9" y="915.6" font-size="28.7">400</text>
<text x="992.9" y="740.4" font-size="28.7">500</text>
</g>
<g id="ticklabels">
<text transform="translate(189.9 1142) scale(0.9969 1)" font-size="58.3">0</text>
<text transform="translate(354.7 1142) scale(0.985 1)" font-size="58.3">200</text>
<text transform="translate(548.8 1142) scale(0.9739 1)" font-size="58.3">400</text>
<text transform="translate(741.5 1142) scale(0.9893 1)" font-size="58.3">600</text>
<text transform="translate(936.6 1142) scale(0.969 1)" font-size="58.3">800</text>
<text transform="translate(1117 1142) scale(0.9541 1)" font-size="58.3">1000</text>
<text transform="translate(1311 1142) scale(0.9468 1)" font-size="58.3">1200</text>
<text transform="translate(1503.9 1142) scale(0.9596 1)" font-size="58.3">1400</text>
<text transform="translate(155.2 1092.5) scale(0.985 1)" font-size="58.3">0</text>
<text transform="translate(97.8 918.7) scale(0.985 1)" font-size="58.3">100</text>
<text transform="translate(97.8 745) scale(0.985 1)" font-size="58.3">200</text>
<text transform="translate(97.8 571.2) scale(0.985 1)" font-size="58.3">300</text>
<text transform="translate(97.8 397.4) scale(0.985 1)" font-size="58.3">400</text>
<text transform="translate(97.8 223.7) scale(0.985 1)" font-size="58.3">500</text>
<text transform="translate(97.8 49.9) scale(0.985 1)" font-size="58.3">600</text>
</g>
<text transform="translate(845.4 1228.9) scale(0.998 1)" font-size="68.9">Time<tspan font-size="82.7" dx="-1.9" dy="6.9">/</tspan><tspan dx="-1.9" dy="-6.9">s</tspan></text>
<text transform="translate(67.8 765.8) rotate(-90) scale(1.047 1)" font-size="69.2">HRR<tspan font-size="83" dx="-1.9" dy="6.9">/</tspan><tspan dx="-1.9" dy="-6.9">(kW</tspan><tspan font-size="83" dx="-1.9" dy="6.9">/</tspan><tspan dx="-1.9" dy="-6.9">m</tspan><tspan font-size="47.4" dy="-26.6">2</tspan><tspan dy="26.6">)</tspan></text>
</svg>
</body></html>
